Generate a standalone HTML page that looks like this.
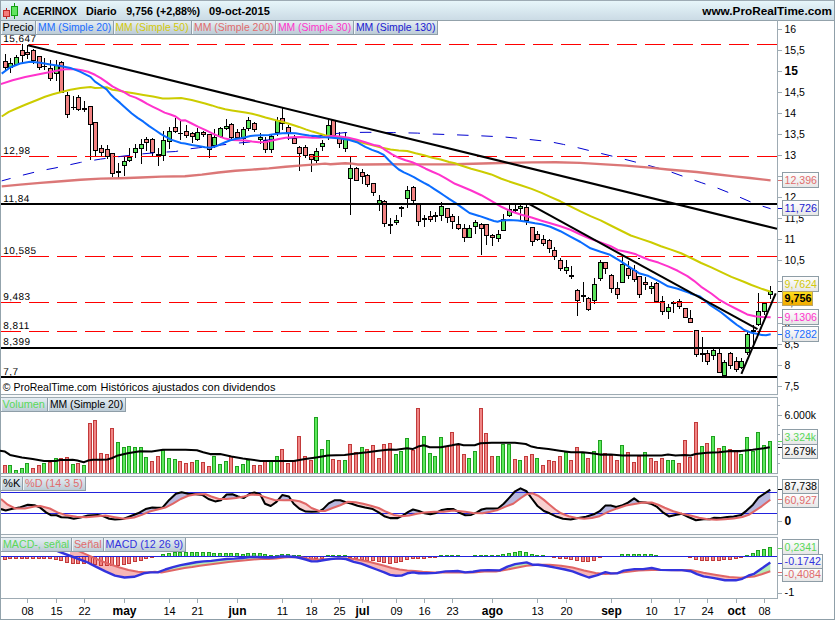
<!DOCTYPE html><html><head><meta charset="utf-8"><title>ACERINOX</title><style>html,body{margin:0;padding:0;background:#fff;overflow:hidden}svg text{white-space:pre}</style></head><body><svg width="835" height="620" viewBox="0 0 835 620" style="display:block">
<defs>
<linearGradient id="hdr" x1="0" y1="0" x2="0" y2="1"><stop offset="0" stop-color="#e8f7fb"/><stop offset="1" stop-color="#cbdbe5"/></linearGradient>
<linearGradient id="tab" x1="0" y1="0" x2="0" y2="1"><stop offset="0" stop-color="#e6eef3"/><stop offset="1" stop-color="#b9c9d4"/></linearGradient>
<linearGradient id="boxg" x1="0" y1="0" x2="0" y2="1"><stop offset="0" stop-color="#ffffff"/><stop offset="1" stop-color="#e6e6e6"/></linearGradient>
<linearGradient id="gold" x1="0" y1="0" x2="0" y2="1"><stop offset="0" stop-color="#ffe11e"/><stop offset="1" stop-color="#f0a800"/></linearGradient>
<clipPath id="cp"><rect x="1" y="20" width="776" height="374"/></clipPath>
<clipPath id="cs"><rect x="1" y="477" width="776" height="57"/></clipPath>
<clipPath id="cm"><rect x="1" y="538" width="776" height="60"/></clipPath>
</defs>
<rect width="835" height="620" fill="#ffffff"/>
<rect x="0" y="0" width="835" height="20" fill="url(#hdr)"/>
<rect x="0" y="0" width="835" height="1" fill="#9dabb4"/>
<rect x="0" y="20" width="835" height="1" fill="#93a2ab"/>
<rect x="0" y="394" width="778" height="4" fill="#f7f9fa"/>
<rect x="0" y="474" width="778" height="3" fill="#f7f9fa"/>
<rect x="0" y="534" width="778" height="4" fill="#f7f9fa"/>
<rect x="0" y="394" width="778" height="1" fill="#9eabb3"/>
<rect x="777" y="20" width="1" height="375" fill="#9eabb3"/>
<rect x="0" y="397" width="778" height="1" fill="#9eabb3"/>
<rect x="0" y="473" width="778" height="1" fill="#9eabb3"/>
<rect x="777" y="397" width="1" height="77" fill="#9eabb3"/>
<rect x="0" y="476" width="778" height="1" fill="#9eabb3"/>
<rect x="0" y="534" width="778" height="1" fill="#9eabb3"/>
<rect x="777" y="476" width="1" height="59" fill="#9eabb3"/>
<rect x="0" y="537" width="778" height="1" fill="#9eabb3"/>
<rect x="0" y="598" width="778" height="1" fill="#9eabb3"/>
<rect x="777" y="537" width="1" height="62" fill="#9eabb3"/>
<rect x="0" y="0" width="1" height="620" fill="#93a3ac"/>
<rect x="834" y="0" width="1" height="620" fill="#8f9fa8"/>
<rect x="0" y="619" width="835" height="1" fill="#8f9fa8"/>
<g clip-path="url(#cp)">
<g shape-rendering="crispEdges">
<rect x="5" y="54" width="1" height="16" fill="#000"/>
<rect x="3" y="61" width="5" height="7" fill="#000"/>
<rect x="4" y="62" width="3" height="5" fill="#f28282"/>
<rect x="10" y="58" width="1" height="15" fill="#000"/>
<rect x="8" y="63" width="5" height="5" fill="#000"/>
<rect x="9" y="64" width="3" height="3" fill="#5be35b"/>
<rect x="16" y="55" width="1" height="11" fill="#000"/>
<rect x="14" y="57" width="5" height="8" fill="#000"/>
<rect x="15" y="58" width="3" height="6" fill="#5be35b"/>
<rect x="22" y="44" width="1" height="20" fill="#000"/>
<rect x="20" y="50" width="5" height="6" fill="#000"/>
<rect x="21" y="51" width="3" height="4" fill="#f28282"/>
<rect x="27" y="45" width="1" height="14" fill="#000"/>
<rect x="25" y="52" width="5" height="3" fill="#000"/>
<rect x="26" y="53" width="3" height="1" fill="#f28282"/>
<rect x="33" y="49" width="1" height="15" fill="#000"/>
<rect x="31" y="50" width="5" height="11" fill="#000"/>
<rect x="32" y="51" width="3" height="9" fill="#f28282"/>
<rect x="39" y="56" width="1" height="14" fill="#000"/>
<rect x="37" y="56" width="5" height="12" fill="#000"/>
<rect x="38" y="57" width="3" height="10" fill="#f28282"/>
<rect x="44" y="58" width="1" height="12" fill="#000"/>
<rect x="42" y="66" width="5" height="1" fill="#000"/>
<rect x="50" y="60" width="1" height="21" fill="#000"/>
<rect x="48" y="68" width="5" height="11" fill="#000"/>
<rect x="49" y="69" width="3" height="9" fill="#f28282"/>
<rect x="56" y="60" width="1" height="21" fill="#000"/>
<rect x="54" y="65" width="5" height="9" fill="#000"/>
<rect x="55" y="66" width="3" height="7" fill="#5be35b"/>
<rect x="61" y="61" width="1" height="32" fill="#000"/>
<rect x="59" y="62" width="5" height="31" fill="#000"/>
<rect x="60" y="63" width="3" height="29" fill="#f28282"/>
<rect x="67" y="92" width="1" height="26" fill="#000"/>
<rect x="65" y="95" width="5" height="20" fill="#000"/>
<rect x="66" y="96" width="3" height="18" fill="#f28282"/>
<rect x="73" y="96" width="1" height="14" fill="#000"/>
<rect x="71" y="107" width="5" height="1" fill="#000"/>
<rect x="78" y="95" width="1" height="16" fill="#000"/>
<rect x="76" y="97" width="5" height="13" fill="#000"/>
<rect x="77" y="98" width="3" height="11" fill="#f28282"/>
<rect x="84" y="101" width="1" height="11" fill="#000"/>
<rect x="82" y="108" width="5" height="2" fill="#000"/>
<rect x="90" y="106" width="1" height="54" fill="#000"/>
<rect x="88" y="106" width="5" height="19" fill="#000"/>
<rect x="89" y="107" width="3" height="17" fill="#f28282"/>
<rect x="95" y="122" width="1" height="35" fill="#000"/>
<rect x="93" y="122" width="5" height="29" fill="#000"/>
<rect x="94" y="123" width="3" height="27" fill="#f28282"/>
<rect x="101" y="145" width="1" height="12" fill="#000"/>
<rect x="99" y="148" width="5" height="5" fill="#000"/>
<rect x="100" y="149" width="3" height="3" fill="#f28282"/>
<rect x="107" y="145" width="1" height="14" fill="#000"/>
<rect x="105" y="149" width="5" height="8" fill="#000"/>
<rect x="106" y="150" width="3" height="6" fill="#f28282"/>
<rect x="112" y="153" width="1" height="24" fill="#000"/>
<rect x="110" y="153" width="5" height="21" fill="#000"/>
<rect x="111" y="154" width="3" height="19" fill="#f28282"/>
<rect x="118" y="163" width="1" height="15" fill="#000"/>
<rect x="116" y="171" width="5" height="2" fill="#000"/>
<rect x="124" y="157" width="1" height="19" fill="#000"/>
<rect x="122" y="161" width="5" height="5" fill="#000"/>
<rect x="123" y="162" width="3" height="3" fill="#5be35b"/>
<rect x="129" y="148" width="1" height="14" fill="#000"/>
<rect x="127" y="157" width="5" height="4" fill="#000"/>
<rect x="128" y="158" width="3" height="2" fill="#5be35b"/>
<rect x="135" y="144" width="1" height="14" fill="#000"/>
<rect x="133" y="148" width="5" height="5" fill="#000"/>
<rect x="134" y="149" width="3" height="3" fill="#5be35b"/>
<rect x="141" y="139" width="1" height="25" fill="#000"/>
<rect x="139" y="144" width="5" height="5" fill="#000"/>
<rect x="140" y="145" width="3" height="3" fill="#5be35b"/>
<rect x="146" y="137" width="1" height="14" fill="#000"/>
<rect x="144" y="139" width="5" height="4" fill="#000"/>
<rect x="145" y="140" width="3" height="2" fill="#f28282"/>
<rect x="152" y="138" width="1" height="18" fill="#000"/>
<rect x="150" y="139" width="5" height="14" fill="#000"/>
<rect x="151" y="140" width="3" height="12" fill="#f28282"/>
<rect x="158" y="148" width="1" height="18" fill="#000"/>
<rect x="156" y="154" width="5" height="2" fill="#000"/>
<rect x="163" y="131" width="1" height="30" fill="#000"/>
<rect x="161" y="140" width="5" height="16" fill="#000"/>
<rect x="162" y="141" width="3" height="14" fill="#5be35b"/>
<rect x="169" y="127" width="1" height="22" fill="#000"/>
<rect x="167" y="131" width="5" height="11" fill="#000"/>
<rect x="168" y="132" width="3" height="9" fill="#5be35b"/>
<rect x="175" y="118" width="1" height="15" fill="#000"/>
<rect x="173" y="127" width="5" height="5" fill="#000"/>
<rect x="174" y="128" width="3" height="3" fill="#f28282"/>
<rect x="180" y="120" width="1" height="20" fill="#000"/>
<rect x="178" y="133" width="5" height="1" fill="#000"/>
<rect x="186" y="125" width="1" height="13" fill="#000"/>
<rect x="184" y="131" width="5" height="5" fill="#000"/>
<rect x="185" y="132" width="3" height="3" fill="#f28282"/>
<rect x="192" y="132" width="1" height="11" fill="#000"/>
<rect x="190" y="133" width="5" height="4" fill="#000"/>
<rect x="191" y="134" width="3" height="2" fill="#f28282"/>
<rect x="197" y="128" width="1" height="13" fill="#000"/>
<rect x="195" y="132" width="5" height="8" fill="#000"/>
<rect x="196" y="133" width="3" height="6" fill="#5be35b"/>
<rect x="203" y="131" width="1" height="6" fill="#000"/>
<rect x="201" y="132" width="5" height="3" fill="#000"/>
<rect x="202" y="133" width="3" height="1" fill="#f28282"/>
<rect x="209" y="134" width="1" height="24" fill="#000"/>
<rect x="207" y="134" width="5" height="16" fill="#000"/>
<rect x="208" y="135" width="3" height="14" fill="#f28282"/>
<rect x="214" y="129" width="1" height="19" fill="#000"/>
<rect x="212" y="137" width="5" height="9" fill="#000"/>
<rect x="213" y="138" width="3" height="7" fill="#5be35b"/>
<rect x="220" y="127" width="1" height="11" fill="#000"/>
<rect x="218" y="128" width="5" height="9" fill="#000"/>
<rect x="219" y="129" width="3" height="7" fill="#5be35b"/>
<rect x="226" y="119" width="1" height="11" fill="#000"/>
<rect x="224" y="126" width="5" height="3" fill="#000"/>
<rect x="225" y="127" width="3" height="1" fill="#5be35b"/>
<rect x="231" y="123" width="1" height="16" fill="#000"/>
<rect x="229" y="124" width="5" height="14" fill="#000"/>
<rect x="230" y="125" width="3" height="12" fill="#f28282"/>
<rect x="237" y="129" width="1" height="10" fill="#000"/>
<rect x="235" y="132" width="5" height="6" fill="#000"/>
<rect x="236" y="133" width="3" height="4" fill="#f28282"/>
<rect x="243" y="127" width="1" height="18" fill="#000"/>
<rect x="241" y="129" width="5" height="10" fill="#000"/>
<rect x="242" y="130" width="3" height="8" fill="#5be35b"/>
<rect x="248" y="117" width="1" height="14" fill="#000"/>
<rect x="246" y="120" width="5" height="9" fill="#000"/>
<rect x="247" y="121" width="3" height="7" fill="#5be35b"/>
<rect x="254" y="122" width="1" height="10" fill="#000"/>
<rect x="252" y="123" width="5" height="7" fill="#000"/>
<rect x="253" y="124" width="3" height="5" fill="#f28282"/>
<rect x="260" y="133" width="1" height="11" fill="#000"/>
<rect x="258" y="137" width="5" height="3" fill="#000"/>
<rect x="259" y="138" width="3" height="1" fill="#5be35b"/>
<rect x="265" y="137" width="1" height="16" fill="#000"/>
<rect x="263" y="140" width="5" height="10" fill="#000"/>
<rect x="264" y="141" width="3" height="8" fill="#f28282"/>
<rect x="271" y="135" width="1" height="18" fill="#000"/>
<rect x="269" y="136" width="5" height="14" fill="#000"/>
<rect x="270" y="137" width="3" height="12" fill="#5be35b"/>
<rect x="277" y="117" width="1" height="19" fill="#000"/>
<rect x="275" y="120" width="5" height="13" fill="#000"/>
<rect x="276" y="121" width="3" height="11" fill="#5be35b"/>
<rect x="282" y="108" width="1" height="22" fill="#000"/>
<rect x="280" y="118" width="5" height="6" fill="#000"/>
<rect x="281" y="119" width="3" height="4" fill="#f28282"/>
<rect x="288" y="125" width="1" height="15" fill="#000"/>
<rect x="286" y="127" width="5" height="6" fill="#000"/>
<rect x="287" y="128" width="3" height="4" fill="#f28282"/>
<rect x="294" y="135" width="1" height="9" fill="#000"/>
<rect x="292" y="138" width="5" height="6" fill="#000"/>
<rect x="293" y="139" width="3" height="4" fill="#f28282"/>
<rect x="299" y="146" width="1" height="25" fill="#000"/>
<rect x="297" y="147" width="5" height="7" fill="#000"/>
<rect x="298" y="148" width="3" height="5" fill="#f28282"/>
<rect x="305" y="145" width="1" height="13" fill="#000"/>
<rect x="303" y="147" width="5" height="9" fill="#000"/>
<rect x="304" y="148" width="3" height="7" fill="#f28282"/>
<rect x="311" y="154" width="1" height="18" fill="#000"/>
<rect x="309" y="154" width="5" height="6" fill="#000"/>
<rect x="310" y="155" width="3" height="4" fill="#f28282"/>
<rect x="316" y="148" width="1" height="15" fill="#000"/>
<rect x="314" y="151" width="5" height="10" fill="#000"/>
<rect x="315" y="152" width="3" height="8" fill="#5be35b"/>
<rect x="322" y="140" width="1" height="11" fill="#000"/>
<rect x="320" y="143" width="5" height="4" fill="#000"/>
<rect x="321" y="144" width="3" height="2" fill="#5be35b"/>
<rect x="328" y="120" width="1" height="20" fill="#000"/>
<rect x="326" y="125" width="5" height="11" fill="#000"/>
<rect x="327" y="126" width="3" height="9" fill="#5be35b"/>
<rect x="333" y="120" width="1" height="17" fill="#000"/>
<rect x="331" y="120" width="5" height="16" fill="#000"/>
<rect x="332" y="121" width="3" height="14" fill="#f28282"/>
<rect x="339" y="132" width="1" height="16" fill="#000"/>
<rect x="337" y="137" width="5" height="7" fill="#000"/>
<rect x="338" y="138" width="3" height="5" fill="#f28282"/>
<rect x="345" y="132" width="1" height="20" fill="#000"/>
<rect x="343" y="139" width="5" height="10" fill="#000"/>
<rect x="344" y="140" width="3" height="8" fill="#5be35b"/>
<rect x="350" y="157" width="1" height="58" fill="#000"/>
<rect x="348" y="168" width="5" height="11" fill="#000"/>
<rect x="349" y="169" width="3" height="9" fill="#5be35b"/>
<rect x="356" y="167" width="1" height="14" fill="#000"/>
<rect x="354" y="168" width="5" height="13" fill="#000"/>
<rect x="355" y="169" width="3" height="11" fill="#f28282"/>
<rect x="362" y="169" width="1" height="15" fill="#000"/>
<rect x="360" y="172" width="5" height="5" fill="#000"/>
<rect x="361" y="173" width="3" height="3" fill="#f28282"/>
<rect x="367" y="174" width="1" height="13" fill="#000"/>
<rect x="365" y="175" width="5" height="10" fill="#000"/>
<rect x="366" y="176" width="3" height="8" fill="#f28282"/>
<rect x="373" y="183" width="1" height="13" fill="#000"/>
<rect x="371" y="183" width="5" height="10" fill="#000"/>
<rect x="372" y="184" width="3" height="8" fill="#f28282"/>
<rect x="379" y="195" width="1" height="16" fill="#000"/>
<rect x="377" y="200" width="5" height="4" fill="#000"/>
<rect x="378" y="201" width="3" height="2" fill="#5be35b"/>
<rect x="384" y="200" width="1" height="27" fill="#000"/>
<rect x="382" y="201" width="5" height="23" fill="#000"/>
<rect x="383" y="202" width="3" height="21" fill="#f28282"/>
<rect x="390" y="218" width="1" height="16" fill="#000"/>
<rect x="388" y="224" width="5" height="2" fill="#000"/>
<rect x="396" y="215" width="1" height="10" fill="#000"/>
<rect x="394" y="220" width="5" height="3" fill="#000"/>
<rect x="395" y="221" width="3" height="1" fill="#5be35b"/>
<rect x="401" y="206" width="1" height="11" fill="#000"/>
<rect x="399" y="207" width="5" height="2" fill="#000"/>
<rect x="407" y="186" width="1" height="22" fill="#000"/>
<rect x="405" y="190" width="5" height="9" fill="#000"/>
<rect x="406" y="191" width="3" height="7" fill="#5be35b"/>
<rect x="413" y="186" width="1" height="18" fill="#000"/>
<rect x="411" y="187" width="5" height="14" fill="#000"/>
<rect x="412" y="188" width="3" height="12" fill="#f28282"/>
<rect x="418" y="204" width="1" height="22" fill="#000"/>
<rect x="416" y="204" width="5" height="18" fill="#000"/>
<rect x="417" y="205" width="3" height="16" fill="#f28282"/>
<rect x="424" y="215" width="1" height="12" fill="#000"/>
<rect x="422" y="218" width="5" height="2" fill="#000"/>
<rect x="430" y="211" width="1" height="11" fill="#000"/>
<rect x="428" y="216" width="5" height="4" fill="#000"/>
<rect x="429" y="217" width="3" height="2" fill="#f28282"/>
<rect x="435" y="212" width="1" height="10" fill="#000"/>
<rect x="433" y="215" width="5" height="2" fill="#000"/>
<rect x="441" y="202" width="1" height="19" fill="#000"/>
<rect x="439" y="206" width="5" height="10" fill="#000"/>
<rect x="440" y="207" width="3" height="8" fill="#5be35b"/>
<rect x="447" y="208" width="1" height="15" fill="#000"/>
<rect x="445" y="208" width="5" height="10" fill="#000"/>
<rect x="446" y="209" width="3" height="8" fill="#f28282"/>
<rect x="452" y="214" width="1" height="15" fill="#000"/>
<rect x="450" y="216" width="5" height="6" fill="#000"/>
<rect x="451" y="217" width="3" height="4" fill="#f28282"/>
<rect x="458" y="216" width="1" height="14" fill="#000"/>
<rect x="456" y="224" width="5" height="5" fill="#000"/>
<rect x="457" y="225" width="3" height="3" fill="#f28282"/>
<rect x="464" y="224" width="1" height="18" fill="#000"/>
<rect x="462" y="228" width="5" height="10" fill="#000"/>
<rect x="463" y="229" width="3" height="8" fill="#f28282"/>
<rect x="469" y="225" width="1" height="13" fill="#000"/>
<rect x="467" y="228" width="5" height="10" fill="#000"/>
<rect x="468" y="229" width="3" height="8" fill="#5be35b"/>
<rect x="475" y="220" width="1" height="14" fill="#000"/>
<rect x="473" y="222" width="5" height="5" fill="#000"/>
<rect x="474" y="223" width="3" height="3" fill="#5be35b"/>
<rect x="481" y="223" width="1" height="32" fill="#000"/>
<rect x="479" y="224" width="5" height="5" fill="#000"/>
<rect x="480" y="225" width="3" height="3" fill="#f28282"/>
<rect x="486" y="224" width="1" height="21" fill="#000"/>
<rect x="484" y="224" width="5" height="12" fill="#000"/>
<rect x="485" y="225" width="3" height="10" fill="#f28282"/>
<rect x="492" y="234" width="1" height="12" fill="#000"/>
<rect x="490" y="235" width="5" height="3" fill="#000"/>
<rect x="491" y="236" width="3" height="1" fill="#f28282"/>
<rect x="498" y="230" width="1" height="12" fill="#000"/>
<rect x="496" y="234" width="5" height="5" fill="#000"/>
<rect x="497" y="235" width="3" height="3" fill="#5be35b"/>
<rect x="503" y="214" width="1" height="17" fill="#000"/>
<rect x="501" y="219" width="5" height="12" fill="#000"/>
<rect x="502" y="220" width="3" height="10" fill="#5be35b"/>
<rect x="509" y="204" width="1" height="13" fill="#000"/>
<rect x="507" y="209" width="5" height="7" fill="#000"/>
<rect x="508" y="210" width="3" height="5" fill="#5be35b"/>
<rect x="515" y="204" width="1" height="8" fill="#000"/>
<rect x="513" y="209" width="5" height="2" fill="#000"/>
<rect x="520" y="204" width="1" height="16" fill="#000"/>
<rect x="518" y="206" width="5" height="3" fill="#000"/>
<rect x="519" y="207" width="3" height="1" fill="#5be35b"/>
<rect x="526" y="204" width="1" height="21" fill="#000"/>
<rect x="524" y="207" width="5" height="14" fill="#000"/>
<rect x="525" y="208" width="3" height="12" fill="#f28282"/>
<rect x="532" y="227" width="1" height="19" fill="#000"/>
<rect x="530" y="227" width="5" height="15" fill="#000"/>
<rect x="531" y="228" width="3" height="13" fill="#f28282"/>
<rect x="537" y="231" width="1" height="10" fill="#000"/>
<rect x="535" y="234" width="5" height="6" fill="#000"/>
<rect x="536" y="235" width="3" height="4" fill="#f28282"/>
<rect x="543" y="235" width="1" height="11" fill="#000"/>
<rect x="541" y="239" width="5" height="5" fill="#000"/>
<rect x="542" y="240" width="3" height="3" fill="#f28282"/>
<rect x="549" y="239" width="1" height="14" fill="#000"/>
<rect x="547" y="240" width="5" height="9" fill="#000"/>
<rect x="548" y="241" width="3" height="7" fill="#f28282"/>
<rect x="554" y="247" width="1" height="13" fill="#000"/>
<rect x="552" y="250" width="5" height="7" fill="#000"/>
<rect x="553" y="251" width="3" height="5" fill="#f28282"/>
<rect x="560" y="258" width="1" height="13" fill="#000"/>
<rect x="558" y="260" width="5" height="9" fill="#000"/>
<rect x="559" y="261" width="3" height="7" fill="#f28282"/>
<rect x="566" y="260" width="1" height="14" fill="#000"/>
<rect x="564" y="267" width="5" height="4" fill="#000"/>
<rect x="565" y="268" width="3" height="2" fill="#5be35b"/>
<rect x="571" y="266" width="1" height="13" fill="#000"/>
<rect x="569" y="275" width="5" height="2" fill="#000"/>
<rect x="577" y="289" width="1" height="27" fill="#000"/>
<rect x="575" y="290" width="5" height="11" fill="#000"/>
<rect x="576" y="291" width="3" height="9" fill="#f28282"/>
<rect x="583" y="282" width="1" height="20" fill="#000"/>
<rect x="581" y="295" width="5" height="2" fill="#000"/>
<rect x="588" y="297" width="1" height="14" fill="#000"/>
<rect x="586" y="298" width="5" height="12" fill="#000"/>
<rect x="587" y="299" width="3" height="10" fill="#f28282"/>
<rect x="594" y="278" width="1" height="26" fill="#000"/>
<rect x="592" y="284" width="5" height="17" fill="#000"/>
<rect x="593" y="285" width="3" height="15" fill="#5be35b"/>
<rect x="600" y="260" width="1" height="21" fill="#000"/>
<rect x="598" y="262" width="5" height="17" fill="#000"/>
<rect x="599" y="263" width="3" height="15" fill="#5be35b"/>
<rect x="605" y="262" width="1" height="12" fill="#000"/>
<rect x="603" y="262" width="5" height="7" fill="#000"/>
<rect x="604" y="263" width="3" height="5" fill="#f28282"/>
<rect x="611" y="274" width="1" height="19" fill="#000"/>
<rect x="609" y="275" width="5" height="14" fill="#000"/>
<rect x="610" y="276" width="3" height="12" fill="#f28282"/>
<rect x="617" y="282" width="1" height="17" fill="#000"/>
<rect x="615" y="288" width="5" height="7" fill="#000"/>
<rect x="616" y="289" width="3" height="5" fill="#f28282"/>
<rect x="622" y="256" width="1" height="27" fill="#000"/>
<rect x="620" y="264" width="5" height="19" fill="#000"/>
<rect x="621" y="265" width="3" height="17" fill="#5be35b"/>
<rect x="628" y="261" width="1" height="18" fill="#000"/>
<rect x="626" y="268" width="5" height="8" fill="#000"/>
<rect x="627" y="269" width="3" height="6" fill="#f28282"/>
<rect x="634" y="265" width="1" height="17" fill="#000"/>
<rect x="632" y="270" width="5" height="10" fill="#000"/>
<rect x="633" y="271" width="3" height="8" fill="#f28282"/>
<rect x="639" y="276" width="1" height="22" fill="#000"/>
<rect x="637" y="276" width="5" height="19" fill="#000"/>
<rect x="638" y="277" width="3" height="17" fill="#f28282"/>
<rect x="645" y="277" width="1" height="13" fill="#000"/>
<rect x="643" y="282" width="5" height="3" fill="#000"/>
<rect x="644" y="283" width="3" height="1" fill="#f28282"/>
<rect x="651" y="282" width="1" height="12" fill="#000"/>
<rect x="649" y="286" width="5" height="3" fill="#000"/>
<rect x="650" y="287" width="3" height="1" fill="#5be35b"/>
<rect x="656" y="282" width="1" height="20" fill="#000"/>
<rect x="654" y="283" width="5" height="19" fill="#000"/>
<rect x="655" y="284" width="3" height="17" fill="#f28282"/>
<rect x="662" y="296" width="1" height="19" fill="#000"/>
<rect x="660" y="301" width="5" height="11" fill="#000"/>
<rect x="661" y="302" width="3" height="9" fill="#f28282"/>
<rect x="668" y="304" width="1" height="15" fill="#000"/>
<rect x="666" y="307" width="5" height="5" fill="#000"/>
<rect x="667" y="308" width="3" height="3" fill="#5be35b"/>
<rect x="673" y="301" width="1" height="12" fill="#000"/>
<rect x="671" y="302" width="5" height="2" fill="#000"/>
<rect x="679" y="299" width="1" height="10" fill="#000"/>
<rect x="677" y="301" width="5" height="6" fill="#000"/>
<rect x="678" y="302" width="3" height="4" fill="#f28282"/>
<rect x="685" y="308" width="1" height="10" fill="#000"/>
<rect x="683" y="308" width="5" height="10" fill="#000"/>
<rect x="684" y="309" width="3" height="8" fill="#f28282"/>
<rect x="690" y="310" width="1" height="13" fill="#000"/>
<rect x="688" y="318" width="5" height="5" fill="#000"/>
<rect x="689" y="319" width="3" height="3" fill="#f28282"/>
<rect x="696" y="330" width="1" height="27" fill="#000"/>
<rect x="694" y="330" width="5" height="25" fill="#000"/>
<rect x="695" y="331" width="3" height="23" fill="#f28282"/>
<rect x="702" y="337" width="1" height="25" fill="#000"/>
<rect x="700" y="353" width="5" height="2" fill="#000"/>
<rect x="707" y="350" width="1" height="15" fill="#000"/>
<rect x="705" y="353" width="5" height="9" fill="#000"/>
<rect x="706" y="354" width="3" height="7" fill="#f28282"/>
<rect x="713" y="349" width="1" height="11" fill="#000"/>
<rect x="711" y="350" width="5" height="6" fill="#000"/>
<rect x="712" y="351" width="3" height="4" fill="#5be35b"/>
<rect x="719" y="348" width="1" height="25" fill="#000"/>
<rect x="717" y="353" width="5" height="20" fill="#000"/>
<rect x="718" y="354" width="3" height="18" fill="#f28282"/>
<rect x="724" y="360" width="1" height="17" fill="#000"/>
<rect x="722" y="362" width="5" height="14" fill="#000"/>
<rect x="723" y="363" width="3" height="12" fill="#5be35b"/>
<rect x="730" y="352" width="1" height="17" fill="#000"/>
<rect x="728" y="353" width="5" height="13" fill="#000"/>
<rect x="729" y="354" width="3" height="11" fill="#f28282"/>
<rect x="736" y="357" width="1" height="15" fill="#000"/>
<rect x="734" y="361" width="5" height="9" fill="#000"/>
<rect x="735" y="362" width="3" height="7" fill="#f28282"/>
<rect x="741" y="358" width="1" height="11" fill="#000"/>
<rect x="739" y="361" width="5" height="7" fill="#000"/>
<rect x="740" y="362" width="3" height="5" fill="#5be35b"/>
<rect x="747" y="332" width="1" height="23" fill="#000"/>
<rect x="745" y="334" width="5" height="19" fill="#000"/>
<rect x="746" y="335" width="3" height="17" fill="#5be35b"/>
<rect x="753" y="325" width="1" height="24" fill="#000"/>
<rect x="751" y="330" width="5" height="2" fill="#000"/>
<rect x="758" y="293" width="1" height="33" fill="#000"/>
<rect x="756" y="311" width="5" height="14" fill="#000"/>
<rect x="757" y="312" width="3" height="12" fill="#5be35b"/>
<rect x="764" y="302" width="1" height="13" fill="#000"/>
<rect x="762" y="303" width="5" height="9" fill="#000"/>
<rect x="763" y="304" width="3" height="7" fill="#5be35b"/>
<rect x="770" y="286" width="1" height="13" fill="#000"/>
<rect x="768" y="291" width="5" height="4" fill="#000"/>
<rect x="769" y="292" width="3" height="2" fill="#5be35b"/>
</g>
<line x1="1" y1="44.5" x2="777" y2="44.5" stroke="#ff0000" stroke-width="1" stroke-dasharray="20 8"/>
<line x1="1" y1="156.5" x2="777" y2="156.5" stroke="#ff0000" stroke-width="1" stroke-dasharray="20 8"/>
<line x1="1" y1="256.5" x2="777" y2="256.5" stroke="#ff0000" stroke-width="1" stroke-dasharray="20 8"/>
<line x1="1" y1="302.5" x2="777" y2="302.5" stroke="#ff0000" stroke-width="1" stroke-dasharray="20 8"/>
<line x1="1" y1="331.5" x2="777" y2="331.5" stroke="#ff0000" stroke-width="1" stroke-dasharray="20 8"/>
<polyline points="1.7,180.9 20.1,175.8 40.2,170.8 55.0,168.0 80.5,162.4 100.6,159.1 120.7,156.4 140.8,154.0 161.0,152.3 175.7,151.5 188.4,149.0 198.4,147.8 221.3,145.0 235.3,143.3 247.0,142.3 265.0,140.2 284.0,138.6 292.3,138.0 308.2,136.9 317.5,136.1 330.0,134.2 345.0,132.6 367.0,132.3 393.8,132.6 417.3,133.1 432.0,134.0 455.0,134.8 480.4,135.8 504.7,137.0 523.0,138.8 550.0,141.7 563.4,144.4 577.0,147.5 592.2,151.3 615.7,157.0 634.1,161.7 650.9,166.1 667.7,170.8 684.4,176.8 701.2,182.6 718.0,188.3 734.7,195.0 751.5,202.3 762.0,206.0 770.6,208.7" fill="none" stroke="#0000d0" stroke-width="1" stroke-dasharray="11.5 12.8" stroke-dashoffset="2.3"/>
<polyline points="1.7,186.4 20.1,184.6 40.2,182.9 55.0,181.7 80.5,179.7 100.6,178.6 120.7,178.2 140.8,177.5 161.0,176.6 185.0,176.3 201.8,174.6 218.5,172.5 235.3,170.8 252.1,169.6 268.8,168.4 285.6,166.8 302.4,165.4 319.1,164.1 325.0,163.6 330.4,164.2 345.2,163.3 352.0,163.6 358.0,164.5 365.3,164.5 390.0,164.3 415.0,164.4 455.0,164.2 491.3,163.2 531.6,162.4 555.8,162.2 580.0,162.9 600.6,164.1 626.0,165.6 650.0,167.6 667.7,169.5 696.7,172.0 716.0,174.2 734.7,176.4 750.0,178.0 770.6,180.4" fill="none" stroke="#d97070" stroke-width="2.4" stroke-linejoin="round" stroke-opacity="0.95"/>
<polyline points="1.7,116.5 8.8,111.9 17.0,108.2 25.2,104.8 37.7,99.8 45.0,96.8 52.8,94.3 60.4,92.3 70.4,89.8 80.5,88.1 90.5,87.0 95.0,87.9 100.8,87.7 106.6,87.2 112.4,89.8 118.2,90.6 124.0,91.8 133.7,93.2 143.4,95.0 153.0,96.6 162.7,98.5 168.5,98.5 175.0,98.2 181.1,98.0 185.0,98.7 191.7,100.0 198.4,101.7 205.1,103.4 211.8,105.4 218.5,107.6 225.2,109.3 232.0,110.4 238.7,111.4 245.4,112.6 252.1,113.8 258.8,115.5 265.5,117.6 272.2,119.3 278.9,121.0 285.6,122.7 292.3,124.8 299.0,126.9 305.7,129.4 312.4,131.6 319.1,133.6 325.0,135.2 331.8,136.8 340.2,137.7 348.5,138.8 356.9,141.0 365.3,143.5 373.7,145.5 382.1,147.7 390.5,149.4 398.8,150.6 407.2,151.1 415.6,153.3 424.0,155.3 432.4,157.8 440.8,159.5 449.1,162.0 455.0,163.3 461.1,165.6 471.2,168.7 481.3,171.4 491.3,174.4 501.4,178.8 511.4,182.2 521.5,185.5 531.6,188.9 541.6,192.9 550.3,196.9 560.4,201.3 570.4,206.3 580.5,211.4 590.5,216.1 600.6,220.4 610.7,225.5 620.7,230.5 630.8,235.5 640.8,238.9 650.9,242.2 661.0,246.2 671.0,249.6 681.1,253.3 691.1,258.0 701.2,263.0 711.3,267.4 721.3,272.2 731.4,276.9 743.8,281.7 751.5,285.0 760.6,288.4 770.6,291.8" fill="none" stroke="#cccc00" stroke-width="2.05" stroke-linejoin="round"/>
<polyline points="0.6,84.1 12.6,80.3 25.2,77.1 37.7,74.6 50.3,72.1 56.6,70.8 62.9,69.4 69.2,69.0 75.5,69.2 81.8,70.2 88.0,71.7 95.0,74.8 100.8,78.2 106.6,82.1 112.4,86.4 118.2,89.3 124.0,92.2 129.8,95.6 135.6,97.6 141.4,100.5 147.2,103.8 153.0,106.8 158.8,109.7 164.6,112.6 170.4,114.5 175.0,116.2 181.1,120.5 185.0,120.2 191.7,123.5 198.4,126.9 205.1,129.9 211.8,133.2 218.5,136.1 225.2,138.6 232.0,139.9 238.7,140.3 245.4,140.6 252.1,141.6 258.8,142.3 265.5,141.9 272.2,140.6 278.9,138.9 285.6,137.8 292.3,137.3 299.0,136.9 305.7,137.3 312.4,137.8 319.1,137.8 325.0,136.9 331.8,136.0 340.2,136.5 348.5,137.7 356.9,139.8 365.3,142.2 373.7,144.9 379.6,146.0 385.4,150.2 392.1,154.4 398.8,157.8 405.5,160.3 412.3,162.3 419.0,165.3 425.7,168.7 432.4,171.7 439.1,174.6 445.8,178.4 455.0,183.8 461.1,186.2 471.2,190.5 481.3,195.2 491.3,200.9 501.4,206.8 511.4,211.5 521.5,214.8 531.6,217.6 541.6,220.7 550.3,223.2 560.4,226.3 570.4,229.8 580.5,234.5 590.5,238.9 600.6,242.4 610.7,246.2 617.7,250.0 627.4,251.9 635.1,253.9 639.0,255.8 648.7,259.7 658.4,262.6 668.0,266.4 677.7,270.8 687.4,276.1 694.0,280.8 701.2,286.8 711.3,293.5 718.7,299.3 727.0,304.2 735.5,308.5 747.2,314.4 755.0,316.2 762.0,317.0 770.6,317.3" fill="none" stroke="#ff33cc" stroke-width="2.05" stroke-linejoin="round"/>
<polyline points="1.7,73.6 10.0,67.5 20.1,63.5 30.2,61.8 40.2,62.8 50.3,64.5 60.4,65.9 70.4,67.9 80.5,71.9 90.5,76.9 95.0,81.6 100.8,85.5 106.6,89.3 110.5,94.2 114.3,98.0 120.1,102.9 125.9,108.2 131.8,113.5 137.6,117.9 143.4,121.7 149.2,126.1 155.0,130.0 161.0,134.2 171.0,139.6 181.1,143.0 185.0,143.6 191.7,145.0 198.4,146.1 205.1,147.3 210.2,147.8 215.2,146.6 220.2,144.5 225.2,142.3 230.3,140.3 235.3,138.9 240.3,138.3 245.4,137.3 250.4,136.1 255.4,135.6 262.1,135.2 268.8,134.9 275.5,133.9 282.3,133.2 289.0,133.1 295.7,133.2 302.4,134.4 309.1,135.6 315.8,136.1 320.8,136.9 325.0,137.3 331.8,137.7 340.2,138.5 348.5,139.8 356.9,142.2 365.3,146.9 372.0,149.9 378.7,152.3 383.7,154.9 388.8,160.3 393.8,165.3 398.8,169.5 403.9,172.4 408.9,174.6 413.9,177.1 419.0,180.1 424.0,182.9 429.0,185.5 434.0,188.8 439.1,192.2 444.1,195.5 449.1,198.9 455.0,202.6 462.7,208.2 469.5,213.0 479.2,215.9 488.9,219.3 494.0,220.9 497.6,221.7 501.4,220.5 509.2,220.1 517.9,220.4 526.6,221.7 535.0,223.3 541.6,224.3 550.3,226.8 560.4,231.2 570.4,236.7 580.5,242.0 590.5,248.3 600.6,251.8 610.0,254.8 619.7,260.6 629.3,266.9 639.0,273.2 648.7,276.1 658.4,280.9 668.0,286.3 677.7,288.7 690.0,293.0 691.1,293.8 700.0,296.5 710.3,305.2 721.3,312.5 731.4,320.6 737.0,325.0 741.0,327.6 744.2,330.0 751.4,332.7 756.8,333.8 761.6,335.0 766.0,335.2 770.7,334.2" fill="none" stroke="#0a6cff" stroke-width="2.05" stroke-linejoin="round"/>
<rect x="1" y="203" width="776" height="2" fill="#000"/>
<rect x="1" y="347" width="776" height="2" fill="#000"/>
<rect x="1" y="376" width="776" height="2" fill="#000"/>
<line x1="27.9" y1="45.3" x2="777" y2="228.8" stroke="#000" stroke-width="2.05"/>
<line x1="528.5" y1="203.7" x2="757.5" y2="329.2" stroke="#000" stroke-width="2.0"/>
<rect x="638" y="258" width="2" height="1" fill="#000"/>
<line x1="741.4" y1="373.8" x2="775.7" y2="293.4" stroke="#000" stroke-width="2.0"/>
</g>
<g shape-rendering="crispEdges">
<rect x="3" y="465" width="4" height="8" fill="#c23a3a"/>
<rect x="4" y="466" width="2" height="7" fill="#f08585"/>
<rect x="8" y="465" width="4" height="8" fill="#1fa01f"/>
<rect x="9" y="466" width="2" height="7" fill="#5ce85c"/>
<rect x="14" y="470" width="4" height="3" fill="#1fa01f"/>
<rect x="15" y="471" width="2" height="2" fill="#5ce85c"/>
<rect x="20" y="468" width="4" height="5" fill="#1fa01f"/>
<rect x="21" y="469" width="2" height="4" fill="#5ce85c"/>
<rect x="25" y="463" width="4" height="10" fill="#1fa01f"/>
<rect x="26" y="464" width="2" height="9" fill="#5ce85c"/>
<rect x="31" y="468" width="4" height="5" fill="#c23a3a"/>
<rect x="32" y="469" width="2" height="4" fill="#f08585"/>
<rect x="37" y="465" width="4" height="8" fill="#c23a3a"/>
<rect x="38" y="466" width="2" height="7" fill="#f08585"/>
<rect x="42" y="463" width="4" height="10" fill="#1fa01f"/>
<rect x="43" y="464" width="2" height="9" fill="#5ce85c"/>
<rect x="48" y="462" width="4" height="11" fill="#c23a3a"/>
<rect x="49" y="463" width="2" height="10" fill="#f08585"/>
<rect x="54" y="458" width="4" height="15" fill="#1fa01f"/>
<rect x="55" y="459" width="2" height="14" fill="#5ce85c"/>
<rect x="59" y="458" width="4" height="15" fill="#c23a3a"/>
<rect x="60" y="459" width="2" height="14" fill="#f08585"/>
<rect x="65" y="457" width="4" height="16" fill="#c23a3a"/>
<rect x="66" y="458" width="2" height="15" fill="#f08585"/>
<rect x="71" y="464" width="4" height="9" fill="#1fa01f"/>
<rect x="72" y="465" width="2" height="8" fill="#5ce85c"/>
<rect x="76" y="463" width="4" height="10" fill="#c23a3a"/>
<rect x="77" y="464" width="2" height="9" fill="#f08585"/>
<rect x="82" y="465" width="4" height="8" fill="#1fa01f"/>
<rect x="83" y="466" width="2" height="7" fill="#5ce85c"/>
<rect x="88" y="423" width="4" height="50" fill="#c23a3a"/>
<rect x="89" y="424" width="2" height="49" fill="#f08585"/>
<rect x="93" y="420" width="4" height="53" fill="#c23a3a"/>
<rect x="94" y="421" width="2" height="52" fill="#f08585"/>
<rect x="99" y="453" width="4" height="20" fill="#c23a3a"/>
<rect x="100" y="454" width="2" height="19" fill="#f08585"/>
<rect x="105" y="454" width="4" height="19" fill="#c23a3a"/>
<rect x="106" y="455" width="2" height="18" fill="#f08585"/>
<rect x="110" y="428" width="4" height="45" fill="#c23a3a"/>
<rect x="111" y="429" width="2" height="44" fill="#f08585"/>
<rect x="116" y="442" width="4" height="31" fill="#1fa01f"/>
<rect x="117" y="443" width="2" height="30" fill="#5ce85c"/>
<rect x="122" y="447" width="4" height="26" fill="#1fa01f"/>
<rect x="123" y="448" width="2" height="25" fill="#5ce85c"/>
<rect x="127" y="446" width="4" height="27" fill="#1fa01f"/>
<rect x="128" y="447" width="2" height="26" fill="#5ce85c"/>
<rect x="133" y="447" width="4" height="26" fill="#1fa01f"/>
<rect x="134" y="448" width="2" height="25" fill="#5ce85c"/>
<rect x="139" y="447" width="4" height="26" fill="#1fa01f"/>
<rect x="140" y="448" width="2" height="25" fill="#5ce85c"/>
<rect x="144" y="457" width="4" height="16" fill="#1fa01f"/>
<rect x="145" y="458" width="2" height="15" fill="#5ce85c"/>
<rect x="150" y="461" width="4" height="12" fill="#c23a3a"/>
<rect x="151" y="462" width="2" height="11" fill="#f08585"/>
<rect x="156" y="456" width="4" height="17" fill="#c23a3a"/>
<rect x="157" y="457" width="2" height="16" fill="#f08585"/>
<rect x="161" y="450" width="4" height="23" fill="#1fa01f"/>
<rect x="162" y="451" width="2" height="22" fill="#5ce85c"/>
<rect x="167" y="458" width="4" height="15" fill="#1fa01f"/>
<rect x="168" y="459" width="2" height="14" fill="#5ce85c"/>
<rect x="173" y="459" width="4" height="14" fill="#1fa01f"/>
<rect x="174" y="460" width="2" height="13" fill="#5ce85c"/>
<rect x="178" y="461" width="4" height="12" fill="#c23a3a"/>
<rect x="179" y="462" width="2" height="11" fill="#f08585"/>
<rect x="184" y="463" width="4" height="10" fill="#c23a3a"/>
<rect x="185" y="464" width="2" height="9" fill="#f08585"/>
<rect x="190" y="462" width="4" height="11" fill="#c23a3a"/>
<rect x="191" y="463" width="2" height="10" fill="#f08585"/>
<rect x="195" y="460" width="4" height="13" fill="#1fa01f"/>
<rect x="196" y="461" width="2" height="12" fill="#5ce85c"/>
<rect x="201" y="462" width="4" height="11" fill="#c23a3a"/>
<rect x="202" y="463" width="2" height="10" fill="#f08585"/>
<rect x="207" y="466" width="4" height="7" fill="#c23a3a"/>
<rect x="208" y="467" width="2" height="6" fill="#f08585"/>
<rect x="212" y="456" width="4" height="17" fill="#1fa01f"/>
<rect x="213" y="457" width="2" height="16" fill="#5ce85c"/>
<rect x="218" y="464" width="4" height="9" fill="#1fa01f"/>
<rect x="219" y="465" width="2" height="8" fill="#5ce85c"/>
<rect x="224" y="461" width="4" height="12" fill="#1fa01f"/>
<rect x="225" y="462" width="2" height="11" fill="#5ce85c"/>
<rect x="229" y="456" width="4" height="17" fill="#c23a3a"/>
<rect x="230" y="457" width="2" height="16" fill="#f08585"/>
<rect x="235" y="466" width="4" height="7" fill="#1fa01f"/>
<rect x="236" y="467" width="2" height="6" fill="#5ce85c"/>
<rect x="241" y="464" width="4" height="9" fill="#1fa01f"/>
<rect x="242" y="465" width="2" height="8" fill="#5ce85c"/>
<rect x="246" y="460" width="4" height="13" fill="#1fa01f"/>
<rect x="247" y="461" width="2" height="12" fill="#5ce85c"/>
<rect x="252" y="465" width="4" height="8" fill="#c23a3a"/>
<rect x="253" y="466" width="2" height="7" fill="#f08585"/>
<rect x="258" y="465" width="4" height="8" fill="#c23a3a"/>
<rect x="259" y="466" width="2" height="7" fill="#f08585"/>
<rect x="263" y="461" width="4" height="12" fill="#c23a3a"/>
<rect x="264" y="462" width="2" height="11" fill="#f08585"/>
<rect x="269" y="460" width="4" height="13" fill="#1fa01f"/>
<rect x="270" y="461" width="2" height="12" fill="#5ce85c"/>
<rect x="275" y="456" width="4" height="17" fill="#1fa01f"/>
<rect x="276" y="457" width="2" height="16" fill="#5ce85c"/>
<rect x="280" y="449" width="4" height="24" fill="#c23a3a"/>
<rect x="281" y="450" width="2" height="23" fill="#f08585"/>
<rect x="286" y="463" width="4" height="10" fill="#c23a3a"/>
<rect x="287" y="464" width="2" height="9" fill="#f08585"/>
<rect x="292" y="461" width="4" height="12" fill="#c23a3a"/>
<rect x="293" y="462" width="2" height="11" fill="#f08585"/>
<rect x="297" y="436" width="4" height="37" fill="#c23a3a"/>
<rect x="298" y="437" width="2" height="36" fill="#f08585"/>
<rect x="303" y="456" width="4" height="17" fill="#c23a3a"/>
<rect x="304" y="457" width="2" height="16" fill="#f08585"/>
<rect x="309" y="460" width="4" height="13" fill="#c23a3a"/>
<rect x="310" y="461" width="2" height="12" fill="#f08585"/>
<rect x="314" y="417" width="4" height="56" fill="#1fa01f"/>
<rect x="315" y="418" width="2" height="55" fill="#5ce85c"/>
<rect x="320" y="449" width="4" height="24" fill="#1fa01f"/>
<rect x="321" y="450" width="2" height="23" fill="#5ce85c"/>
<rect x="326" y="440" width="4" height="33" fill="#1fa01f"/>
<rect x="327" y="441" width="2" height="32" fill="#5ce85c"/>
<rect x="331" y="459" width="4" height="14" fill="#c23a3a"/>
<rect x="332" y="460" width="2" height="13" fill="#f08585"/>
<rect x="337" y="460" width="4" height="13" fill="#c23a3a"/>
<rect x="338" y="461" width="2" height="12" fill="#f08585"/>
<rect x="343" y="460" width="4" height="13" fill="#1fa01f"/>
<rect x="344" y="461" width="2" height="12" fill="#5ce85c"/>
<rect x="348" y="444" width="4" height="29" fill="#c23a3a"/>
<rect x="349" y="445" width="2" height="28" fill="#f08585"/>
<rect x="354" y="452" width="4" height="21" fill="#c23a3a"/>
<rect x="355" y="453" width="2" height="20" fill="#f08585"/>
<rect x="360" y="447" width="4" height="26" fill="#1fa01f"/>
<rect x="361" y="448" width="2" height="25" fill="#5ce85c"/>
<rect x="365" y="449" width="4" height="24" fill="#c23a3a"/>
<rect x="366" y="450" width="2" height="23" fill="#f08585"/>
<rect x="371" y="445" width="4" height="28" fill="#c23a3a"/>
<rect x="372" y="446" width="2" height="27" fill="#f08585"/>
<rect x="377" y="458" width="4" height="15" fill="#c23a3a"/>
<rect x="378" y="459" width="2" height="14" fill="#f08585"/>
<rect x="382" y="444" width="4" height="29" fill="#c23a3a"/>
<rect x="383" y="445" width="2" height="28" fill="#f08585"/>
<rect x="388" y="443" width="4" height="30" fill="#c23a3a"/>
<rect x="389" y="444" width="2" height="29" fill="#f08585"/>
<rect x="394" y="454" width="4" height="19" fill="#1fa01f"/>
<rect x="395" y="455" width="2" height="18" fill="#5ce85c"/>
<rect x="399" y="451" width="4" height="22" fill="#1fa01f"/>
<rect x="400" y="452" width="2" height="21" fill="#5ce85c"/>
<rect x="405" y="438" width="4" height="35" fill="#1fa01f"/>
<rect x="406" y="439" width="2" height="34" fill="#5ce85c"/>
<rect x="411" y="450" width="4" height="23" fill="#c23a3a"/>
<rect x="412" y="451" width="2" height="22" fill="#f08585"/>
<rect x="416" y="408" width="4" height="65" fill="#c23a3a"/>
<rect x="417" y="409" width="2" height="64" fill="#f08585"/>
<rect x="422" y="436" width="4" height="37" fill="#1fa01f"/>
<rect x="423" y="437" width="2" height="36" fill="#5ce85c"/>
<rect x="428" y="453" width="4" height="20" fill="#1fa01f"/>
<rect x="429" y="454" width="2" height="19" fill="#5ce85c"/>
<rect x="433" y="456" width="4" height="17" fill="#1fa01f"/>
<rect x="434" y="457" width="2" height="16" fill="#5ce85c"/>
<rect x="439" y="437" width="4" height="36" fill="#1fa01f"/>
<rect x="440" y="438" width="2" height="35" fill="#5ce85c"/>
<rect x="445" y="446" width="4" height="27" fill="#c23a3a"/>
<rect x="446" y="447" width="2" height="26" fill="#f08585"/>
<rect x="450" y="432" width="4" height="41" fill="#c23a3a"/>
<rect x="451" y="433" width="2" height="40" fill="#f08585"/>
<rect x="456" y="445" width="4" height="28" fill="#c23a3a"/>
<rect x="457" y="446" width="2" height="27" fill="#f08585"/>
<rect x="462" y="454" width="4" height="19" fill="#c23a3a"/>
<rect x="463" y="455" width="2" height="18" fill="#f08585"/>
<rect x="467" y="458" width="4" height="15" fill="#1fa01f"/>
<rect x="468" y="459" width="2" height="14" fill="#5ce85c"/>
<rect x="473" y="451" width="4" height="22" fill="#1fa01f"/>
<rect x="474" y="452" width="2" height="21" fill="#5ce85c"/>
<rect x="479" y="408" width="4" height="65" fill="#c23a3a"/>
<rect x="480" y="409" width="2" height="64" fill="#f08585"/>
<rect x="484" y="433" width="4" height="40" fill="#c23a3a"/>
<rect x="485" y="434" width="2" height="39" fill="#f08585"/>
<rect x="490" y="456" width="4" height="17" fill="#c23a3a"/>
<rect x="491" y="457" width="2" height="16" fill="#f08585"/>
<rect x="496" y="456" width="4" height="17" fill="#1fa01f"/>
<rect x="497" y="457" width="2" height="16" fill="#5ce85c"/>
<rect x="501" y="444" width="4" height="29" fill="#1fa01f"/>
<rect x="502" y="445" width="2" height="28" fill="#5ce85c"/>
<rect x="507" y="444" width="4" height="29" fill="#1fa01f"/>
<rect x="508" y="445" width="2" height="28" fill="#5ce85c"/>
<rect x="513" y="459" width="4" height="14" fill="#c23a3a"/>
<rect x="514" y="460" width="2" height="13" fill="#f08585"/>
<rect x="518" y="460" width="4" height="13" fill="#1fa01f"/>
<rect x="519" y="461" width="2" height="12" fill="#5ce85c"/>
<rect x="524" y="456" width="4" height="17" fill="#c23a3a"/>
<rect x="525" y="457" width="2" height="16" fill="#f08585"/>
<rect x="530" y="454" width="4" height="19" fill="#c23a3a"/>
<rect x="531" y="455" width="2" height="18" fill="#f08585"/>
<rect x="535" y="458" width="4" height="15" fill="#1fa01f"/>
<rect x="536" y="459" width="2" height="14" fill="#5ce85c"/>
<rect x="541" y="465" width="4" height="8" fill="#c23a3a"/>
<rect x="542" y="466" width="2" height="7" fill="#f08585"/>
<rect x="547" y="460" width="4" height="13" fill="#c23a3a"/>
<rect x="548" y="461" width="2" height="12" fill="#f08585"/>
<rect x="552" y="461" width="4" height="12" fill="#c23a3a"/>
<rect x="553" y="462" width="2" height="11" fill="#f08585"/>
<rect x="558" y="456" width="4" height="17" fill="#c23a3a"/>
<rect x="559" y="457" width="2" height="16" fill="#f08585"/>
<rect x="564" y="452" width="4" height="21" fill="#1fa01f"/>
<rect x="565" y="453" width="2" height="20" fill="#5ce85c"/>
<rect x="569" y="460" width="4" height="13" fill="#c23a3a"/>
<rect x="570" y="461" width="2" height="12" fill="#f08585"/>
<rect x="575" y="447" width="4" height="26" fill="#c23a3a"/>
<rect x="576" y="448" width="2" height="25" fill="#f08585"/>
<rect x="581" y="453" width="4" height="20" fill="#1fa01f"/>
<rect x="582" y="454" width="2" height="19" fill="#5ce85c"/>
<rect x="586" y="458" width="4" height="15" fill="#c23a3a"/>
<rect x="587" y="459" width="2" height="14" fill="#f08585"/>
<rect x="592" y="451" width="4" height="22" fill="#1fa01f"/>
<rect x="593" y="452" width="2" height="21" fill="#5ce85c"/>
<rect x="598" y="440" width="4" height="33" fill="#1fa01f"/>
<rect x="599" y="441" width="2" height="32" fill="#5ce85c"/>
<rect x="603" y="453" width="4" height="20" fill="#c23a3a"/>
<rect x="604" y="454" width="2" height="19" fill="#f08585"/>
<rect x="609" y="455" width="4" height="18" fill="#c23a3a"/>
<rect x="610" y="456" width="2" height="17" fill="#f08585"/>
<rect x="615" y="460" width="4" height="13" fill="#c23a3a"/>
<rect x="616" y="461" width="2" height="12" fill="#f08585"/>
<rect x="620" y="445" width="4" height="28" fill="#1fa01f"/>
<rect x="621" y="446" width="2" height="27" fill="#5ce85c"/>
<rect x="626" y="452" width="4" height="21" fill="#c23a3a"/>
<rect x="627" y="453" width="2" height="20" fill="#f08585"/>
<rect x="632" y="462" width="4" height="11" fill="#c23a3a"/>
<rect x="633" y="463" width="2" height="10" fill="#f08585"/>
<rect x="637" y="456" width="4" height="17" fill="#c23a3a"/>
<rect x="638" y="457" width="2" height="16" fill="#f08585"/>
<rect x="643" y="452" width="4" height="21" fill="#1fa01f"/>
<rect x="644" y="453" width="2" height="20" fill="#5ce85c"/>
<rect x="649" y="458" width="4" height="15" fill="#c23a3a"/>
<rect x="650" y="459" width="2" height="14" fill="#f08585"/>
<rect x="654" y="461" width="4" height="12" fill="#c23a3a"/>
<rect x="655" y="462" width="2" height="11" fill="#f08585"/>
<rect x="660" y="458" width="4" height="15" fill="#c23a3a"/>
<rect x="661" y="459" width="2" height="14" fill="#f08585"/>
<rect x="666" y="460" width="4" height="13" fill="#1fa01f"/>
<rect x="667" y="461" width="2" height="12" fill="#5ce85c"/>
<rect x="671" y="460" width="4" height="13" fill="#1fa01f"/>
<rect x="672" y="461" width="2" height="12" fill="#5ce85c"/>
<rect x="677" y="463" width="4" height="10" fill="#c23a3a"/>
<rect x="678" y="464" width="2" height="9" fill="#f08585"/>
<rect x="683" y="440" width="4" height="33" fill="#c23a3a"/>
<rect x="684" y="441" width="2" height="32" fill="#f08585"/>
<rect x="688" y="457" width="4" height="16" fill="#c23a3a"/>
<rect x="689" y="458" width="2" height="15" fill="#f08585"/>
<rect x="694" y="422" width="4" height="51" fill="#c23a3a"/>
<rect x="695" y="423" width="2" height="50" fill="#f08585"/>
<rect x="700" y="446" width="4" height="27" fill="#1fa01f"/>
<rect x="701" y="447" width="2" height="26" fill="#5ce85c"/>
<rect x="705" y="443" width="4" height="30" fill="#c23a3a"/>
<rect x="706" y="444" width="2" height="29" fill="#f08585"/>
<rect x="711" y="436" width="4" height="37" fill="#1fa01f"/>
<rect x="712" y="437" width="2" height="36" fill="#5ce85c"/>
<rect x="717" y="448" width="4" height="25" fill="#c23a3a"/>
<rect x="718" y="449" width="2" height="24" fill="#f08585"/>
<rect x="722" y="446" width="4" height="27" fill="#1fa01f"/>
<rect x="723" y="447" width="2" height="26" fill="#5ce85c"/>
<rect x="728" y="449" width="4" height="24" fill="#c23a3a"/>
<rect x="729" y="450" width="2" height="23" fill="#f08585"/>
<rect x="734" y="450" width="4" height="23" fill="#c23a3a"/>
<rect x="735" y="451" width="2" height="22" fill="#f08585"/>
<rect x="739" y="454" width="4" height="19" fill="#1fa01f"/>
<rect x="740" y="455" width="2" height="18" fill="#5ce85c"/>
<rect x="745" y="437" width="4" height="36" fill="#1fa01f"/>
<rect x="746" y="438" width="2" height="35" fill="#5ce85c"/>
<rect x="751" y="451" width="4" height="22" fill="#1fa01f"/>
<rect x="752" y="452" width="2" height="21" fill="#5ce85c"/>
<rect x="756" y="432" width="4" height="41" fill="#1fa01f"/>
<rect x="757" y="433" width="2" height="40" fill="#5ce85c"/>
<rect x="762" y="445" width="4" height="28" fill="#1fa01f"/>
<rect x="763" y="446" width="2" height="27" fill="#5ce85c"/>
<rect x="768" y="441" width="4" height="32" fill="#1fa01f"/>
<rect x="769" y="442" width="2" height="31" fill="#5ce85c"/>
</g>
<polyline points="0.0,450.8 5.0,451.6 10.0,454.9 21.9,457.4 32.7,459.1 44.0,460.9 55.8,460.9 60.0,460.0 65.8,460.0 72.6,459.7 77.4,460.6 83.7,462.2 88.0,460.6 92.9,459.7 100.6,459.7 107.4,459.5 112.2,458.0 118.0,455.4 127.7,453.2 140.0,451.3 151.7,451.6 163.0,449.8 174.8,449.8 185.6,449.8 196.9,450.3 203.2,452.3 210.1,454.1 220.1,454.1 231.4,456.6 242.8,458.6 260.4,460.9 276.7,460.9 293.8,460.9 305.1,459.1 316.2,457.4 327.8,455.4 344.6,454.9 355.9,453.4 367.3,452.3 378.6,450.8 389.9,449.6 396.2,449.8 407.0,448.3 412.6,449.1 418.1,446.6 423.9,445.3 429.7,447.3 441.0,447.3 452.1,445.3 458.4,444.0 463.6,445.3 474.7,445.3 480.5,443.3 491.8,442.8 514.9,442.8 525.8,444.0 531.5,446.6 537.1,447.8 548.4,449.1 559.7,450.8 571.0,452.3 582.8,452.3 593.7,453.6 600.0,454.6 610.9,454.6 622.2,455.4 644.8,455.4 661.7,455.4 668.0,454.6 675.5,455.6 684.8,454.9 690.6,455.4 695.6,454.1 707.0,452.8 718.8,452.3 730.1,451.1 740.9,451.1 752.7,449.8 764.0,448.3 769.8,447.3" fill="none" stroke="#000" stroke-width="2.05" stroke-linejoin="round"/>
<g clip-path="url(#cs)">
<polygon points="1.0,509.1 2.0,509.4 3.0,509.7 4.0,509.9 5.0,510.2 6.0,510.3 7.0,510.1 8.0,509.9 9.0,509.7 10.0,509.4 11.0,509.2 12.0,509.0 13.0,508.8 14.0,508.6 15.0,508.4 15.0,508.4 14.0,507.9 13.0,507.4 12.0,506.9 11.0,506.3 10.0,505.8 9.0,505.3 8.0,504.8 7.0,504.1 6.0,503.3 5.0,502.4 4.0,501.6 3.0,500.7 2.0,499.9 1.0,499.0" fill="#f8d0d0"/>
<polygon points="15.0,508.4 16.0,508.2 17.0,508.0 18.0,507.8 19.0,507.6 20.0,507.3 21.0,507.0 22.0,506.7 23.0,506.3 24.0,506.0 25.0,505.6 26.0,505.3 27.0,505.0 28.0,504.7 29.0,504.8 30.0,504.9 31.0,505.0 32.0,505.1 33.0,505.2 34.0,505.3 35.0,505.5 36.0,505.9 37.0,506.3 37.0,506.3 36.0,506.4 35.0,506.5 34.0,506.7 33.0,506.9 32.0,507.1 31.0,507.3 30.0,507.5 29.0,507.7 28.0,507.9 27.0,508.1 26.0,508.3 25.0,508.5 24.0,508.5 23.0,508.5 22.0,508.5 21.0,508.5 20.0,508.5 19.0,508.5 18.0,508.5 17.0,508.5 16.0,508.5 15.0,508.4" fill="#b7b7de"/>
<polygon points="37.0,506.3 38.0,506.7 39.0,507.1 40.0,507.5 41.0,508.3 42.0,509.1 43.0,509.9 44.0,510.7 45.0,511.6 46.0,512.4 47.0,513.0 48.0,513.6 49.0,514.1 50.0,514.7 51.0,515.2 52.0,515.2 53.0,515.2 54.0,515.2 55.0,515.2 56.0,515.2 57.0,515.4 58.0,515.8 59.0,516.2 60.0,516.7 61.0,517.1 62.0,517.2 63.0,517.3 64.0,517.3 65.0,517.4 66.0,517.4 67.0,517.5 68.0,517.5 69.0,517.7 70.0,517.9 71.0,518.1 72.0,518.3 73.0,518.5 74.0,518.7 75.0,518.5 76.0,518.3 77.0,518.1 78.0,517.9 79.0,517.8 80.0,517.6 81.0,517.4 82.0,517.1 82.5,517.0 82.5,517.0 82.0,517.0 81.0,517.0 80.0,516.9 79.0,516.9 78.0,516.9 77.0,516.8 76.0,516.7 75.0,516.5 74.0,516.4 73.0,516.2 72.0,516.0 71.0,515.9 70.0,515.7 69.0,515.5 68.0,515.4 67.0,515.2 66.0,515.0 65.0,514.9 64.0,514.5 63.0,514.2 62.0,513.9 61.0,513.6 60.0,513.2 59.0,512.9 58.0,512.6 57.0,512.1 56.0,511.6 55.0,511.1 54.0,510.6 53.0,510.1 52.0,509.6 51.0,509.1 50.0,508.6 49.0,508.3 48.0,508.0 47.0,507.8 46.0,507.5 45.0,507.2 44.0,507.0 43.0,506.7 42.0,506.5 41.0,506.2 40.0,506.0 39.0,506.1 38.0,506.2 37.0,506.3" fill="#f8d0d0"/>
<polygon points="82.5,517.0 83.5,516.8 84.5,516.5 85.5,516.2 86.5,516.0 87.5,515.8 88.5,515.6 89.5,515.5 90.5,515.4 91.5,515.4 92.5,515.3 93.5,515.2 94.5,515.1 95.5,515.1 96.5,515.0 97.5,514.9 98.5,515.1 99.5,515.3 100.5,515.5 101.5,515.8 102.0,515.9 102.0,515.9 101.5,515.9 100.5,516.0 99.5,516.1 98.5,516.1 97.5,516.2 96.5,516.3 95.5,516.4 94.5,516.5 93.5,516.6 92.5,516.7 91.5,516.7 90.5,516.8 89.5,516.9 88.5,517.0 87.5,517.1 86.5,517.2 85.5,517.2 84.5,517.1 83.5,517.1 82.5,517.0" fill="#b7b7de"/>
<polygon points="102.0,515.9 103.0,516.1 104.0,516.4 105.0,516.9 106.0,517.3 107.0,517.7 108.0,518.2 109.0,518.6 110.0,518.8 111.0,518.9 112.0,519.1 113.0,519.2 114.0,519.4 115.0,519.5 116.0,519.4 117.0,519.4 118.0,519.3 119.0,519.3 120.0,519.2 121.0,519.2 122.0,519.1 123.0,518.9 124.0,518.6 124.0,518.6 123.0,518.5 122.0,518.3 121.0,518.1 120.0,518.0 119.0,517.8 118.0,517.7 117.0,517.5 116.0,517.4 115.0,517.2 114.0,517.0 113.0,516.9 112.0,516.7 111.0,516.5 110.0,516.4 109.0,516.2 108.0,516.0 107.0,515.9 106.0,515.7 105.0,515.6 104.0,515.7 103.0,515.8 102.0,515.9" fill="#f8d0d0"/>
<polygon points="124.0,518.6 125.0,518.2 126.0,517.8 127.0,517.4 128.0,517.1 129.0,516.7 130.0,516.3 131.0,515.9 132.0,515.6 133.0,515.2 134.0,514.8 135.0,514.4 136.0,514.1 137.0,513.7 138.0,513.3 139.0,512.7 140.0,512.2 141.0,511.6 142.0,511.1 143.0,510.5 144.0,510.0 145.0,509.4 146.0,509.0 147.0,508.8 148.0,508.6 149.0,508.3 150.0,508.1 151.0,507.9 152.0,507.7 153.0,507.6 154.0,507.7 155.0,507.7 156.0,507.8 157.0,507.8 158.0,507.8 159.0,507.7 160.0,507.7 161.0,507.7 162.0,507.6 163.0,507.0 164.0,505.9 165.0,504.7 166.0,503.6 167.0,502.4 168.0,501.3 169.0,500.1 170.0,499.2 171.0,498.3 172.0,497.4 173.0,496.4 174.0,495.5 175.0,494.6 176.0,493.8 177.0,493.5 178.0,493.2 179.0,492.9 180.0,492.6 181.0,492.4 182.0,492.3 183.0,492.5 184.0,492.8 185.0,493.0 186.0,493.3 187.0,493.5 188.0,493.7 189.0,493.8 190.0,493.9 191.0,493.9 192.0,494.0 193.0,494.0 194.0,494.1 195.0,494.1 196.0,494.2 196.0,494.2 195.0,494.4 194.0,494.6 193.0,494.8 192.0,495.0 191.0,495.2 190.0,495.4 189.0,495.6 188.0,495.8 187.0,496.3 186.0,496.7 185.0,497.1 184.0,497.6 183.0,498.0 182.0,498.4 181.0,498.9 180.0,499.4 179.0,500.0 178.0,500.6 177.0,501.3 176.0,501.9 175.0,502.5 174.0,503.1 173.0,503.7 172.0,504.2 171.0,504.7 170.0,505.2 169.0,505.7 168.0,506.2 167.0,506.7 166.0,507.2 165.0,507.7 164.0,507.9 163.0,508.2 162.0,508.4 161.0,508.7 160.0,508.9 159.0,509.2 158.0,509.4 157.0,509.7 156.0,509.9 155.0,510.2 154.0,510.4 153.0,510.7 152.0,511.0 151.0,511.2 150.0,511.5 149.0,511.8 148.0,512.2 147.0,512.7 146.0,513.1 145.0,513.5 144.0,514.0 143.0,514.4 142.0,514.8 141.0,515.2 140.0,515.5 139.0,515.8 138.0,516.2 137.0,516.5 136.0,516.9 135.0,517.2 134.0,517.5 133.0,517.6 132.0,517.8 131.0,517.9 130.0,518.0 129.0,518.1 128.0,518.3 127.0,518.4 126.0,518.5 125.0,518.6 124.0,518.6" fill="#b7b7de"/>
<polygon points="196.0,494.2 197.0,494.3 198.0,494.5 199.0,494.6 200.0,494.7 201.0,494.9 202.0,495.0 203.0,495.3 204.0,496.0 205.0,496.7 206.0,497.4 207.0,498.0 208.0,498.7 209.0,499.2 210.0,499.6 211.0,499.9 212.0,500.3 213.0,500.6 214.0,501.0 215.0,501.4 216.0,501.2 217.0,501.0 218.0,500.9 219.0,500.7 220.0,500.5 221.0,500.2 222.0,499.2 222.0,499.0 221.0,499.0 220.0,499.0 219.0,499.0 218.0,498.7 217.0,498.4 216.0,498.0 215.0,497.7 214.0,497.4 213.0,497.1 212.0,496.7 211.0,496.4 210.0,496.0 209.0,495.6 208.0,495.2 207.0,494.8 206.0,494.4 205.0,494.2 204.0,494.2 203.0,494.2 202.0,494.2 201.0,494.2 200.0,494.2 199.0,494.2 198.0,494.2 197.0,494.2 196.0,494.2" fill="#f8d0d0"/>
<polygon points="222.0,499.2 223.0,498.2 224.0,497.1 225.0,496.1 226.0,495.1 227.0,494.5 228.0,494.4 229.0,494.4 230.0,494.3 231.0,494.3 232.0,494.2 233.0,494.4 234.0,494.8 235.0,495.2 236.0,495.7 237.0,496.1 238.0,496.5 239.0,496.7 240.0,497.0 240.5,497.1 240.5,497.2 240.0,497.3 239.0,497.5 238.0,497.6 237.0,497.8 236.0,498.0 235.0,498.1 234.0,498.2 233.0,498.3 232.0,498.4 231.0,498.5 230.0,498.6 229.0,498.8 228.0,498.9 227.0,499.0 226.0,499.0 225.0,499.0 224.0,499.0 223.0,499.0 222.0,499.0" fill="#b7b7de"/>
<polygon points="240.5,497.1 241.5,497.4 242.5,497.6 243.5,497.9 244.5,497.6 245.5,496.8 246.5,496.1 247.0,495.7 247.0,495.7 246.5,495.8 245.5,496.1 244.5,496.3 243.5,496.6 242.5,496.8 241.5,497.0 240.5,497.2" fill="#f8d0d0"/>
<polygon points="247.0,495.7 248.0,495.0 249.0,494.2 250.0,493.7 251.0,493.4 252.0,493.2 253.0,493.0 254.0,492.7 255.0,492.8 256.0,493.0 257.0,493.3 258.0,493.6 259.0,493.9 260.0,494.1 261.0,495.8 261.0,495.7 260.0,495.4 259.0,495.1 258.0,495.0 257.0,494.9 256.0,494.8 255.0,494.8 254.0,494.7 253.0,494.6 252.0,494.5 251.0,494.7 250.0,494.9 249.0,495.2 248.0,495.4 247.0,495.7" fill="#b7b7de"/>
<polygon points="261.0,495.8 262.0,497.8 263.0,499.7 264.0,501.7 265.0,503.7 266.0,504.1 267.0,504.5 268.0,504.9 269.0,505.3 270.0,505.7 271.0,505.8 272.0,505.1 273.0,504.3 274.0,503.6 275.0,502.9 276.0,502.2 277.0,501.2 278.0,500.0 278.0,500.0 277.0,500.0 276.0,500.0 275.0,499.9 274.0,499.7 273.0,499.4 272.0,499.1 271.0,498.8 270.0,498.5 269.0,498.2 268.0,497.9 267.0,497.6 266.0,497.3 265.0,497.0 264.0,496.7 263.0,496.3 262.0,496.0 261.0,495.7" fill="#f8d0d0"/>
<polygon points="278.0,500.0 279.0,498.9 280.0,497.7 281.0,496.5 282.0,495.3 283.0,495.3 284.0,495.5 285.0,495.7 286.0,495.9 287.0,496.1 288.0,496.3 289.0,496.7 290.0,498.2 291.0,499.7 291.0,499.9 290.0,500.0 289.0,500.0 288.0,500.1 287.0,500.1 286.0,500.2 285.0,500.3 284.0,500.3 283.0,500.3 282.0,500.2 281.0,500.2 280.0,500.1 279.0,500.1 278.0,500.0" fill="#b7b7de"/>
<polygon points="291.0,499.7 292.0,501.2 293.0,502.7 294.0,504.0 295.0,504.8 296.0,505.7 297.0,506.5 298.0,507.4 299.0,508.3 300.0,508.9 301.0,509.4 302.0,509.9 303.0,510.3 304.0,510.8 305.0,511.3 306.0,511.6 307.0,511.6 308.0,511.7 309.0,511.7 310.0,511.7 311.0,511.8 312.0,511.8 313.0,511.7 314.0,511.7 315.0,511.6 316.0,511.6 317.0,511.5 318.0,511.5 319.0,511.4 320.0,510.9 320.0,511.0 319.0,510.9 318.0,510.5 317.0,510.1 316.0,509.8 315.0,509.4 314.0,509.0 313.0,508.6 312.0,508.2 311.0,507.6 310.0,506.9 309.0,506.2 308.0,505.5 307.0,504.8 306.0,504.1 305.0,503.5 304.0,503.1 303.0,502.7 302.0,502.2 301.0,501.8 300.0,501.4 299.0,501.1 298.0,500.9 297.0,500.8 296.0,500.6 295.0,500.4 294.0,500.3 293.0,500.1 292.0,499.9 291.0,499.9" fill="#f8d0d0"/>
<polygon points="320.0,510.9 321.0,510.3 322.0,509.7 323.0,509.1 324.0,508.1 325.0,507.1 326.0,506.1 327.0,505.1 328.0,504.1 329.0,503.2 330.0,502.7 331.0,502.2 332.0,501.6 333.0,501.1 334.0,500.6 335.0,500.3 336.0,500.3 337.0,500.3 338.0,500.3 339.0,500.3 340.0,500.3 341.0,500.6 342.0,500.9 343.0,501.2 344.0,501.5 345.0,501.9 346.0,502.2 346.5,502.3 346.5,502.4 346.0,502.7 345.0,503.1 344.0,503.6 343.0,504.0 342.0,504.5 341.0,504.9 340.0,505.4 339.0,505.7 338.0,506.1 337.0,506.4 336.0,506.8 335.0,507.1 334.0,507.5 333.0,507.9 332.0,508.2 331.0,508.6 330.0,509.0 329.0,509.4 328.0,509.8 327.0,510.2 326.0,510.6 325.0,511.0 324.0,511.0 323.0,511.0 322.0,511.0 321.0,511.0 320.0,511.0" fill="#b7b7de"/>
<polygon points="346.5,502.3 347.5,502.6 348.5,502.9 349.5,503.1 350.5,503.4 351.5,503.6 352.5,504.0 353.5,504.3 354.5,504.7 355.5,505.0 356.5,505.4 357.5,505.7 358.5,505.9 359.5,506.2 360.5,506.4 361.5,506.7 362.5,506.9 363.5,507.2 364.5,507.4 365.5,507.7 366.5,507.9 367.5,508.1 368.5,508.3 369.5,508.5 370.5,508.7 371.5,508.8 372.5,509.0 373.5,509.5 374.5,510.1 375.5,510.6 376.5,511.2 377.5,511.8 378.5,512.3 379.5,513.0 380.5,513.7 381.5,514.3 382.5,515.0 383.5,515.7 384.5,516.3 385.5,516.6 386.5,516.9 387.5,517.2 388.5,517.6 389.5,517.9 390.5,518.1 391.5,518.1 392.5,518.1 393.5,518.1 394.5,518.1 395.5,518.1 396.5,518.1 397.5,518.1 398.5,517.7 399.5,517.2 400.5,516.7 401.5,516.2 401.5,516.2 400.5,516.0 399.5,515.8 398.5,515.7 397.5,515.5 396.5,515.3 395.5,515.2 394.5,515.0 393.5,514.7 392.5,514.3 391.5,513.9 390.5,513.5 389.5,513.1 388.5,512.7 387.5,512.3 386.5,511.9 385.5,511.4 384.5,510.9 383.5,510.4 382.5,509.9 381.5,509.4 380.5,508.9 379.5,508.4 378.5,508.0 377.5,507.7 376.5,507.4 375.5,507.1 374.5,506.8 373.5,506.5 372.5,506.2 371.5,505.9 370.5,505.6 369.5,505.3 368.5,505.1 367.5,504.8 366.5,504.6 365.5,504.3 364.5,504.0 363.5,503.8 362.5,503.6 361.5,503.4 360.5,503.2 359.5,503.0 358.5,502.8 357.5,502.6 356.5,502.4 355.5,502.2 354.5,502.1 353.5,502.1 352.5,502.0 351.5,502.0 350.5,501.9 349.5,501.9 348.5,501.8 347.5,502.0 346.5,502.4" fill="#f8d0d0"/>
<polygon points="401.5,516.2 402.5,515.7 403.5,515.2 404.5,514.5 405.5,513.8 406.5,513.1 407.5,512.4 408.5,511.7 409.5,511.2 410.5,510.7 411.5,510.2 412.5,509.7 413.5,509.6 414.5,509.9 415.5,510.1 416.5,510.4 417.5,510.7 418.5,510.9 419.5,511.3 420.5,511.7 421.5,512.1 422.5,512.5 423.0,512.7 423.0,512.7 422.5,512.7 421.5,512.9 420.5,513.1 419.5,513.3 418.5,513.4 417.5,513.6 416.5,513.8 415.5,514.0 414.5,514.3 413.5,514.5 412.5,514.8 411.5,515.0 410.5,515.3 409.5,515.5 408.5,515.7 407.5,515.7 406.5,515.8 405.5,515.9 404.5,516.0 403.5,516.1 402.5,516.1 401.5,516.2" fill="#b7b7de"/>
<polygon points="423.0,512.7 424.0,513.1 425.0,513.4 426.0,513.6 427.0,513.7 428.0,513.9 429.0,514.1 430.0,514.2 431.0,514.1 432.0,513.9 433.0,513.6 434.0,513.4 435.0,513.1 436.0,512.9 437.0,512.4 438.0,511.9 438.0,511.8 437.0,511.8 436.0,511.8 435.0,511.8 434.0,511.8 433.0,511.9 432.0,511.9 431.0,512.0 430.0,512.1 429.0,512.1 428.0,512.2 427.0,512.2 426.0,512.3 425.0,512.4 424.0,512.5 423.0,512.7" fill="#f8d0d0"/>
<polygon points="438.0,511.9 439.0,511.3 440.0,510.8 441.0,510.3 442.0,509.9 443.0,509.7 444.0,509.6 445.0,509.5 446.0,509.3 447.0,509.2 448.0,509.1 449.0,509.1 450.0,509.1 451.0,509.1 452.0,509.1 453.0,509.1 454.0,509.4 455.0,510.0 456.0,510.6 456.5,510.9 456.5,510.8 456.0,510.7 455.0,510.6 454.0,510.5 453.0,510.4 452.0,510.6 451.0,510.7 450.0,510.9 449.0,511.0 448.0,511.2 447.0,511.3 446.0,511.5 445.0,511.6 444.0,511.8 443.0,511.8 442.0,511.8 441.0,511.8 440.0,511.8 439.0,511.8 438.0,511.8" fill="#b7b7de"/>
<polygon points="456.5,510.9 457.5,511.5 458.5,512.1 459.5,512.6 460.5,513.1 461.5,513.5 462.5,514.0 463.5,514.4 464.5,514.8 465.5,515.2 466.5,515.1 467.5,515.1 468.5,515.0 469.5,515.0 470.5,514.9 471.5,514.7 472.5,514.3 473.5,513.8 474.5,513.4 475.5,513.0 475.5,513.0 474.5,513.0 473.5,512.9 472.5,512.8 471.5,512.7 470.5,512.5 469.5,512.4 468.5,512.3 467.5,512.1 466.5,512.0 465.5,511.8 464.5,511.7 463.5,511.6 462.5,511.5 461.5,511.4 460.5,511.2 459.5,511.1 458.5,511.0 457.5,510.9 456.5,510.8" fill="#f8d0d0"/>
<polygon points="475.5,513.0 476.5,512.5 477.5,512.0 478.5,511.4 479.5,510.8 480.5,510.2 481.5,509.6 482.5,509.3 483.5,509.1 484.5,508.9 485.5,508.7 486.5,508.5 487.5,508.5 488.5,508.5 489.5,508.5 490.5,508.5 491.5,508.5 492.5,508.5 493.5,508.5 494.5,508.5 495.5,508.5 496.5,508.5 497.5,508.5 498.5,508.0 499.5,507.2 500.5,506.3 501.5,505.5 502.5,504.7 503.5,503.9 504.5,502.8 505.5,501.8 506.5,500.7 507.5,499.6 508.5,498.6 509.5,497.5 510.5,496.4 511.5,495.3 512.5,494.2 513.5,493.1 514.5,492.0 515.5,491.1 516.5,490.5 517.5,490.0 518.5,489.5 519.5,488.9 520.5,488.4 521.5,488.9 522.5,489.4 523.5,489.8 524.5,490.3 525.5,490.8 526.5,491.3 527.5,492.6 528.5,494.0 528.5,493.9 527.5,494.0 526.5,494.3 525.5,494.9 524.5,495.6 523.5,496.3 522.5,496.9 521.5,497.6 520.5,498.3 519.5,499.0 518.5,499.8 517.5,500.5 516.5,501.3 515.5,502.0 514.5,502.7 513.5,503.5 512.5,504.0 511.5,504.3 510.5,504.7 509.5,505.1 508.5,505.5 507.5,505.9 506.5,506.3 505.5,506.6 504.5,507.1 503.5,507.5 502.5,507.9 501.5,508.4 500.5,508.8 499.5,509.2 498.5,509.6 497.5,510.0 496.5,510.2 495.5,510.5 494.5,510.7 493.5,511.0 492.5,511.2 491.5,511.5 490.5,511.7 489.5,511.9 488.5,512.1 487.5,512.3 486.5,512.5 485.5,512.7 484.5,512.9 483.5,513.1 482.5,513.3 481.5,513.3 480.5,513.2 479.5,513.2 478.5,513.1 477.5,513.1 476.5,513.0 475.5,513.0" fill="#b7b7de"/>
<polygon points="528.5,494.0 529.5,495.3 530.5,496.7 531.5,498.1 532.5,499.5 533.5,500.8 534.5,502.1 535.5,503.4 536.5,504.8 537.5,505.9 538.5,506.7 539.5,507.5 540.5,508.3 541.5,509.1 542.5,509.9 543.5,510.7 544.5,511.2 545.5,511.6 546.5,512.0 547.5,512.5 548.5,512.9 549.5,513.3 550.5,513.8 551.5,514.2 552.5,514.8 553.5,515.2 554.5,515.8 555.5,516.2 556.5,516.6 557.5,516.9 558.5,517.2 559.5,517.5 560.5,517.9 561.5,518.2 562.5,518.5 563.5,518.8 564.5,518.9 565.5,519.0 566.5,519.1 567.5,519.2 568.5,519.3 569.5,519.4 570.5,519.5 571.5,519.4 572.5,519.2 573.5,519.0 574.5,518.8 575.5,518.6 576.5,518.4 577.5,518.3 578.0,518.2 578.0,518.2 577.5,518.2 576.5,518.1 575.5,517.9 574.5,517.6 573.5,517.4 572.5,517.1 571.5,516.9 570.5,516.6 569.5,516.4 568.5,516.1 567.5,515.7 566.5,515.3 565.5,515.0 564.5,514.6 563.5,514.2 562.5,513.8 561.5,513.5 560.5,512.9 559.5,512.2 558.5,511.6 557.5,510.9 556.5,510.2 555.5,509.6 554.5,508.8 553.5,507.9 552.5,507.1 551.5,506.3 550.5,505.4 549.5,504.6 548.5,503.8 547.5,502.9 546.5,502.1 545.5,501.2 544.5,500.4 543.5,499.6 542.5,498.9 541.5,498.2 540.5,497.4 539.5,496.7 538.5,496.0 537.5,495.4 536.5,495.0 535.5,494.6 534.5,494.1 533.5,493.7 532.5,493.2 531.5,493.4 530.5,493.5 529.5,493.7 528.5,493.9" fill="#f8d0d0"/>
<polygon points="578.0,518.2 579.0,518.0 580.0,517.8 581.0,517.7 582.0,517.5 583.0,517.3 584.0,517.1 585.0,517.0 586.0,516.8 587.0,516.5 588.0,516.2 589.0,515.8 590.0,515.5 591.0,515.2 592.0,514.9 593.0,514.5 594.0,514.1 595.0,513.6 596.0,513.1 597.0,512.6 598.0,512.1 599.0,511.6 600.0,510.9 601.0,509.9 602.0,508.9 603.0,507.9 604.0,506.9 605.0,505.9 606.0,505.6 607.0,505.5 608.0,505.5 609.0,505.5 610.0,505.4 611.0,505.5 612.0,505.7 613.0,506.0 614.0,506.3 615.0,506.6 616.0,506.8 617.0,506.7 618.0,506.5 619.0,506.2 620.0,506.0 621.0,505.7 622.0,505.4 623.0,504.9 624.0,504.5 625.0,504.0 626.0,503.5 627.0,503.1 628.0,502.6 629.0,501.9 630.0,501.2 631.0,500.5 632.0,499.8 633.0,499.1 634.0,498.4 635.0,499.0 636.0,499.8 637.0,500.5 638.0,501.3 639.0,501.9 640.0,502.0 641.0,502.1 642.0,502.2 643.0,502.4 644.0,502.5 645.0,502.6 645.0,502.6 644.0,502.6 643.0,502.6 642.0,502.8 641.0,503.0 640.0,503.1 639.0,503.3 638.0,503.5 637.0,503.7 636.0,503.8 635.0,504.0 634.0,504.2 633.0,504.4 632.0,504.5 631.0,504.7 630.0,504.9 629.0,505.1 628.0,505.2 627.0,505.4 626.0,505.6 625.0,505.9 624.0,506.2 623.0,506.5 622.0,506.9 621.0,507.2 620.0,507.5 619.0,507.8 618.0,508.1 617.0,508.5 616.0,508.8 615.0,509.2 614.0,509.6 613.0,510.0 612.0,510.3 611.0,510.7 610.0,511.1 609.0,511.5 608.0,511.9 607.0,512.4 606.0,512.9 605.0,513.4 604.0,513.9 603.0,514.4 602.0,514.9 601.0,515.4 600.0,515.9 599.0,516.3 598.0,516.6 597.0,516.8 596.0,517.1 595.0,517.3 594.0,517.6 593.0,517.8 592.0,518.1 591.0,518.2 590.0,518.2 589.0,518.3 588.0,518.4 587.0,518.5 586.0,518.6 585.0,518.6 584.0,518.7 583.0,518.6 582.0,518.5 581.0,518.5 580.0,518.4 579.0,518.3 578.0,518.2" fill="#b7b7de"/>
<polygon points="645.0,502.6 646.0,502.8 647.0,503.0 648.0,503.2 649.0,503.5 650.0,503.7 651.0,503.9 652.0,504.3 653.0,504.8 654.0,505.3 655.0,505.8 656.0,506.3 657.0,506.8 658.0,507.8 659.0,508.7 660.0,509.7 661.0,510.7 662.0,511.6 663.0,512.4 664.0,513.1 665.0,513.8 666.0,514.4 667.0,515.1 668.0,515.7 669.0,516.4 670.0,516.2 671.0,515.9 672.0,515.7 673.0,515.5 674.0,515.2 675.0,515.0 676.0,514.8 677.0,514.6 678.0,514.5 679.0,514.3 680.0,514.1 681.0,514.0 682.0,513.8 683.0,514.3 684.0,514.8 685.0,515.3 686.0,515.8 687.0,516.3 688.0,516.8 689.0,517.3 690.0,517.7 691.0,518.1 692.0,518.6 693.0,519.0 694.0,519.5 695.0,519.9 696.0,520.3 697.0,520.1 698.0,520.0 699.0,519.9 700.0,519.7 701.0,519.6 702.0,519.4 703.0,519.3 704.0,519.2 705.0,519.2 706.0,519.2 707.0,519.2 708.0,519.2 708.0,519.2 707.0,519.1 706.0,518.9 705.0,518.7 704.0,518.5 703.0,518.4 702.0,518.2 701.0,518.0 700.0,517.8 699.0,517.6 698.0,517.4 697.0,517.1 696.0,516.9 695.0,516.6 694.0,516.4 693.0,516.1 692.0,515.9 691.0,515.6 690.0,515.4 689.0,515.2 688.0,515.0 687.0,514.8 686.0,514.6 685.0,514.4 684.0,514.2 683.0,514.0 682.0,513.8 681.0,513.5 680.0,513.2 679.0,512.9 678.0,512.6 677.0,512.3 676.0,512.0 675.0,511.7 674.0,511.4 673.0,511.1 672.0,510.7 671.0,510.3 670.0,509.9 669.0,509.5 668.0,509.1 667.0,508.7 666.0,508.3 665.0,507.9 664.0,507.5 663.0,507.0 662.0,506.5 661.0,506.0 660.0,505.6 659.0,505.1 658.0,504.6 657.0,504.3 656.0,504.0 655.0,503.7 654.0,503.3 653.0,503.0 652.0,502.7 651.0,502.6 650.0,502.6 649.0,502.6 648.0,502.6 647.0,502.6 646.0,502.6 645.0,502.6" fill="#f8d0d0"/>
<polygon points="708.0,519.2 709.0,519.2 710.0,519.2 711.0,518.8 712.0,518.5 713.0,518.1 714.0,517.8 715.0,517.7 716.0,517.8 717.0,517.9 718.0,517.9 719.0,518.0 720.0,518.1 721.0,518.0 722.0,517.9 723.0,517.7 724.0,517.5 725.0,517.4 726.0,517.2 727.0,517.0 728.0,516.9 729.0,516.8 730.0,516.7 731.0,516.6 732.0,516.5 733.0,516.5 734.0,516.3 735.0,516.1 736.0,515.9 737.0,515.7 738.0,515.5 739.0,515.3 740.0,515.1 741.0,514.9 742.0,514.3 743.0,513.5 744.0,512.7 745.0,511.9 746.0,511.1 747.0,510.2 748.0,509.3 749.0,508.4 750.0,507.5 751.0,506.5 752.0,505.6 753.0,504.7 754.0,503.4 755.0,502.1 756.0,500.8 757.0,499.4 758.0,498.1 759.0,497.2 760.0,496.5 761.0,495.9 762.0,495.2 763.0,494.5 764.0,493.9 765.0,493.2 766.0,492.5 767.0,491.9 768.0,491.2 769.0,490.6 770.0,489.9 770.3,489.7 770.3,499.8 770.0,500.0 769.0,500.8 768.0,501.5 767.0,502.3 766.0,503.1 765.0,503.8 764.0,504.6 763.0,505.3 762.0,506.1 761.0,506.8 760.0,507.4 759.0,508.1 758.0,508.7 757.0,509.4 756.0,510.1 755.0,510.7 754.0,511.4 753.0,512.1 752.0,512.7 751.0,513.4 750.0,514.0 749.0,514.7 748.0,515.1 747.0,515.5 746.0,515.8 745.0,516.1 744.0,516.4 743.0,516.8 742.0,517.1 741.0,517.2 740.0,517.4 739.0,517.6 738.0,517.7 737.0,517.9 736.0,518.1 735.0,518.3 734.0,518.4 733.0,518.5 732.0,518.6 731.0,518.7 730.0,518.8 729.0,518.9 728.0,519.0 727.0,519.0 726.0,519.1 725.0,519.2 724.0,519.3 723.0,519.3 722.0,519.4 721.0,519.5 720.0,519.5 719.0,519.6 718.0,519.7 717.0,519.8 716.0,519.8 715.0,519.7 714.0,519.6 713.0,519.6 712.0,519.5 711.0,519.4 710.0,519.4 709.0,519.3 708.0,519.2" fill="#b7b7de"/>
<rect x="1" y="492" width="776" height="1" fill="#2222dd"/>
<rect x="1" y="513" width="776" height="1" fill="#2222dd"/>
<polyline points="1.0,509.1 5.7,510.4 11.5,509.1 19.2,507.6 27.8,504.7 34.5,505.3 40.2,507.6 46.0,512.4 50.8,515.2 56.5,515.2 61.3,517.2 68.0,517.5 73.8,518.7 80.5,517.5 88.1,515.6 97.7,514.9 103.5,516.2 109.2,518.7 115.0,519.5 122.6,519.1 130.3,516.2 138.0,513.3 145.6,509.1 152.3,507.6 157.0,507.8 162.5,507.6 169.2,499.9 175.9,493.8 181.6,492.2 188.3,493.8 196.0,494.2 202.7,495.1 208.4,499.0 215.1,501.4 220.9,500.3 226.6,494.5 232.4,494.2 238.1,496.5 243.9,498.0 249.6,493.8 254.4,492.6 260.2,494.2 265.0,503.7 270.7,506.0 276.5,501.8 282.2,495.1 288.9,496.5 293.7,503.7 299.5,508.7 305.7,511.6 311.5,511.8 319.2,511.4 323.0,509.1 328.7,503.4 334.5,500.3 340.2,500.3 346.0,502.2 351.7,503.7 357.5,505.7 365.1,507.6 372.8,509.1 378.6,512.4 384.3,516.2 390.1,518.1 397.7,518.1 403.5,515.2 408.3,511.8 413.0,509.5 418.8,511.0 424.5,513.3 430.3,514.3 436.0,512.9 441.8,509.9 447.5,509.1 453.5,509.1 459.6,512.7 465.3,515.2 471.1,514.9 476.8,512.4 481.6,509.5 486.4,508.5 497.9,508.5 503.7,503.7 509.4,497.6 515.1,491.3 520.5,488.4 526.6,491.3 531.4,498.0 537.2,505.7 543.9,511.0 549.6,513.3 555.4,516.2 563.0,518.7 570.7,519.5 578.4,518.1 586.0,516.8 593.7,514.3 599.7,511.2 605.3,505.6 610.8,505.4 616.2,506.9 621.6,505.6 628.0,502.6 634.1,498.3 638.8,501.9 645.3,502.6 651.7,504.1 657.1,506.9 662.5,512.1 669.0,516.4 675.4,514.9 681.9,513.8 688.4,517.0 695.9,520.3 703.5,519.2 709.9,519.2 714.2,517.7 720.7,518.1 727.2,517.0 733.6,516.4 741.2,514.9 746.6,510.6 753.0,504.7 758.4,497.6 763.8,494.0 770.3,489.7" fill="none" stroke="#000" stroke-width="2.05" stroke-linejoin="round"/>
<polyline points="1.0,499.0 7.7,504.7 15.3,508.5 24.9,508.5 34.5,506.6 40.2,506.0 49.8,508.5 57.5,512.4 65.1,514.9 76.6,516.8 86.2,517.2 97.7,516.2 105.4,515.6 115.0,517.2 124.5,518.7 134.1,517.5 141.8,514.9 149.5,511.6 157.7,509.5 165.3,507.6 173.0,503.7 180.7,499.0 188.3,495.7 196.0,494.2 205.6,494.2 211.3,496.5 219.0,499.0 226.6,499.0 236.2,498.0 243.9,496.5 251.6,494.5 259.2,495.1 266.9,497.6 274.5,499.9 284.1,500.3 291.8,499.9 299.5,501.2 305.5,503.7 311.5,508.0 319.2,511.0 324.9,511.0 332.6,508.0 340.2,505.3 347.9,501.8 355.6,502.2 363.2,503.7 370.9,505.7 378.6,508.0 386.2,511.8 393.9,514.9 401.6,516.2 409.2,515.6 416.9,513.7 424.5,512.4 434.1,511.8 443.7,511.8 453.3,510.4 465.3,511.8 473.0,512.9 482.6,513.3 490.2,511.8 497.9,509.9 505.6,506.6 513.2,503.7 520.9,498.0 526.6,494.2 532.4,493.2 538.1,495.7 543.9,499.9 549.6,504.7 555.4,509.5 561.1,513.3 568.8,516.2 576.5,518.1 584.1,518.7 591.8,518.1 599.5,516.2 608.6,511.6 617.2,508.4 625.9,505.6 634.5,504.1 643.1,502.6 651.7,502.6 658.2,504.7 664.7,507.8 673.3,511.2 681.9,513.8 690.5,515.5 699.2,517.7 707.8,519.2 716.4,519.8 725.0,519.2 733.6,518.5 742.3,517.0 748.7,514.9 755.2,510.6 761.7,506.3 770.3,499.8" fill="none" stroke="#e06666" stroke-width="2.05" stroke-linejoin="round"/>
</g>
<g clip-path="url(#cm)">
<polygon points="70.0,555.8 71.0,556.2 72.0,556.5 73.0,556.9 74.0,557.3 75.0,557.6 76.0,558.0 77.0,558.4 78.0,558.8 79.0,559.1 80.0,559.5 81.0,559.9 82.0,560.2 83.0,560.6 84.0,561.0 85.0,561.4 86.0,561.7 87.0,562.2 88.0,562.7 89.0,563.2 90.0,563.7 91.0,564.2 92.0,564.7 93.0,565.2 94.0,565.7 95.0,566.2 96.0,566.7 97.0,567.2 98.0,567.7 99.0,568.2 100.0,568.7 101.0,569.2 102.0,569.7 103.0,570.2 104.0,570.7 105.0,571.2 106.0,571.7 107.0,572.1 108.0,572.5 109.0,573.0 110.0,573.4 111.0,573.9 112.0,574.3 113.0,574.7 114.0,575.2 115.0,575.6 116.0,575.8 117.0,576.0 118.0,576.2 119.0,576.4 120.0,576.6 121.0,576.8 122.0,577.0 123.0,577.2 124.0,577.4 125.0,577.5 126.0,577.4 127.0,577.3 128.0,577.2 129.0,577.2 130.0,577.1 131.0,577.0 132.0,577.0 133.0,576.9 134.0,576.8 135.0,576.5 136.0,576.1 137.0,575.7 138.0,575.4 139.0,575.0 140.0,574.6 141.0,574.3 142.0,573.9 143.0,573.6 144.0,573.3 145.0,573.1 146.0,573.0 147.0,572.8 148.0,572.7 149.0,572.5 150.0,572.4 151.0,572.4 152.0,572.4 153.0,572.4 154.0,572.4 155.0,572.4 156.0,572.4 157.0,572.4 158.0,572.3 158.5,572.1 158.5,572.1 158.0,572.1 157.0,572.0 156.0,571.9 155.0,571.8 154.0,571.9 153.0,572.0 152.0,572.0 151.0,572.1 150.0,572.2 149.0,572.3 148.0,572.4 147.0,572.4 146.0,572.3 145.0,572.2 144.0,572.2 143.0,572.1 142.0,572.1 141.0,572.0 140.0,571.9 139.0,571.9 138.0,571.8 137.0,571.6 136.0,571.4 135.0,571.2 134.0,571.0 133.0,570.8 132.0,570.6 131.0,570.4 130.0,570.2 129.0,570.0 128.0,569.8 127.0,569.5 126.0,569.2 125.0,568.9 124.0,568.7 123.0,568.4 122.0,568.1 121.0,567.8 120.0,567.5 119.0,567.3 118.0,566.9 117.0,566.6 116.0,566.3 115.0,566.0 114.0,565.7 113.0,565.3 112.0,565.0 111.0,564.7 110.0,564.4 109.0,564.0 108.0,563.6 107.0,563.2 106.0,562.8 105.0,562.4 104.0,562.0 103.0,561.6 102.0,561.2 101.0,560.9 100.0,560.5 99.0,560.0 98.0,559.6 97.0,559.2 96.0,558.7 95.0,558.3 94.0,557.8 93.0,557.4 92.0,556.9 91.0,556.5 90.0,556.1 89.0,555.6 88.0,555.2 87.0,554.7 86.0,554.3 85.0,553.9 84.0,553.4 83.0,553.0 82.0,552.6 81.0,552.1 80.0,551.7 79.0,551.3 78.0,551.0 77.0,550.6 76.0,550.2 75.0,549.9 74.0,549.5 73.0,549.1 72.0,548.7 71.0,548.4 70.0,548.0" fill="#f7b6b6"/>
<polygon points="158.5,572.1 159.5,571.7 160.5,571.3 161.5,571.0 162.5,570.6 163.5,570.2 164.5,569.8 165.5,569.4 166.5,569.1 167.5,568.8 168.5,568.5 169.5,568.2 170.5,567.9 171.5,567.6 172.5,567.3 173.5,567.1 174.5,566.8 175.5,566.5 176.5,566.2 177.5,566.0 178.5,565.7 179.5,565.4 180.5,565.2 181.5,565.0 182.5,564.8 183.5,564.6 184.5,564.4 185.5,564.2 186.5,564.0 187.5,563.8 188.5,563.7 189.5,563.5 190.5,563.3 191.5,563.1 192.5,562.9 193.5,562.7 194.5,562.5 195.5,562.3 196.5,562.1 197.5,562.0 198.5,561.9 199.5,561.8 200.5,561.7 201.5,561.6 202.5,561.5 203.5,561.4 204.5,561.3 205.5,561.3 206.5,561.2 207.5,561.1 208.5,561.1 209.5,561.0 210.5,561.0 211.5,560.9 212.5,560.7 213.5,560.6 214.5,560.5 215.5,560.4 216.5,560.2 217.5,560.1 218.5,560.0 219.5,559.8 220.5,559.7 221.5,559.6 222.5,559.5 223.5,559.4 224.5,559.2 225.5,559.1 226.5,559.0 227.5,559.0 228.5,558.9 229.5,558.8 230.5,558.8 231.5,558.7 232.5,558.7 233.5,558.6 234.5,558.6 235.5,558.5 236.5,558.4 237.5,558.4 238.5,558.3 239.5,558.2 240.5,558.1 241.5,558.0 242.5,557.9 243.5,557.8 244.5,557.7 245.5,557.5 246.5,557.4 247.5,557.3 248.5,557.1 249.5,557.0 250.5,557.0 251.5,557.0 252.5,557.0 253.5,557.0 254.5,557.0 255.5,557.0 256.5,557.0 257.5,557.0 258.5,557.1 259.5,557.2 260.5,557.2 261.5,557.3 262.5,557.4 263.5,557.5 264.5,557.6 265.5,557.6 266.5,557.6 267.5,557.6 268.5,557.6 269.5,557.6 270.5,557.6 271.5,557.6 272.5,557.6 273.5,557.5 274.5,557.3 275.5,557.2 276.5,557.0 277.5,556.9 278.5,556.8 279.5,556.6 280.5,556.5 281.5,556.5 282.5,556.5 283.5,556.5 284.5,556.5 285.5,556.5 286.5,556.5 287.5,556.5 288.5,556.5 289.5,556.6 290.5,556.7 291.5,556.7 292.5,556.8 293.5,556.9 294.5,556.9 295.5,557.0 296.0,557.1 296.0,557.1 295.5,557.1 294.5,557.1 293.5,557.0 292.5,557.0 291.5,557.0 290.5,557.1 289.5,557.2 288.5,557.3 287.5,557.3 286.5,557.4 285.5,557.5 284.5,557.6 283.5,557.7 282.5,557.8 281.5,557.9 280.5,558.0 279.5,558.1 278.5,558.2 277.5,558.3 276.5,558.4 275.5,558.5 274.5,558.6 273.5,558.6 272.5,558.7 271.5,558.8 270.5,558.9 269.5,558.9 268.5,559.0 267.5,559.0 266.5,559.0 265.5,559.0 264.5,559.0 263.5,559.0 262.5,559.0 261.5,559.0 260.5,559.0 259.5,559.1 258.5,559.2 257.5,559.2 256.5,559.3 255.5,559.4 254.5,559.4 253.5,559.5 252.5,559.6 251.5,559.7 250.5,559.8 249.5,559.9 248.5,560.0 247.5,560.1 246.5,560.2 245.5,560.3 244.5,560.4 243.5,560.5 242.5,560.6 241.5,560.6 240.5,560.7 239.5,560.8 238.5,560.9 237.5,561.0 236.5,561.1 235.5,561.2 234.5,561.3 233.5,561.4 232.5,561.6 231.5,561.7 230.5,561.8 229.5,561.9 228.5,562.1 227.5,562.2 226.5,562.3 225.5,562.4 224.5,562.6 223.5,562.7 222.5,562.8 221.5,563.0 220.5,563.1 219.5,563.2 218.5,563.3 217.5,563.4 216.5,563.5 215.5,563.7 214.5,563.8 213.5,563.9 212.5,564.0 211.5,564.2 210.5,564.3 209.5,564.4 208.5,564.6 207.5,564.7 206.5,564.8 205.5,565.0 204.5,565.1 203.5,565.2 202.5,565.3 201.5,565.5 200.5,565.6 199.5,565.8 198.5,565.9 197.5,566.1 196.5,566.3 195.5,566.4 194.5,566.6 193.5,566.8 192.5,566.9 191.5,567.1 190.5,567.2 189.5,567.4 188.5,567.5 187.5,567.7 186.5,567.8 185.5,568.0 184.5,568.1 183.5,568.3 182.5,568.5 181.5,568.6 180.5,568.8 179.5,569.0 178.5,569.2 177.5,569.4 176.5,569.6 175.5,569.8 174.5,570.0 173.5,570.2 172.5,570.3 171.5,570.5 170.5,570.7 169.5,570.9 168.5,571.1 167.5,571.3 166.5,571.5 165.5,571.7 164.5,571.9 163.5,572.0 162.5,572.2 161.5,572.4 160.5,572.3 159.5,572.2 158.5,572.1" fill="#b6ecb6"/>
<polygon points="296.0,557.1 297.0,557.3 298.0,557.5 299.0,557.8 300.0,558.0 301.0,558.3 302.0,558.5 303.0,558.8 304.0,559.1 305.0,559.3 306.0,559.6 307.0,559.9 308.0,560.3 309.0,560.6 310.0,560.9 311.0,561.2 312.0,561.4 313.0,561.4 314.0,561.4 315.0,561.4 316.0,561.4 317.0,561.4 318.0,561.2 319.0,561.1 320.0,560.9 321.0,560.7 322.0,560.5 323.0,560.3 324.0,560.1 325.0,560.0 326.0,559.8 327.0,559.6 328.0,559.5 329.0,559.3 330.0,559.1 331.0,559.0 332.0,558.9 333.0,558.8 334.0,558.7 335.0,558.7 336.0,558.6 337.0,558.5 338.0,558.4 339.0,558.5 340.0,558.5 341.0,558.6 342.0,558.7 343.0,558.8 344.0,558.8 345.0,558.9 346.0,559.0 347.0,559.4 348.0,559.7 349.0,560.1 350.0,560.5 351.0,560.8 352.0,561.2 353.0,561.5 354.0,561.9 355.0,562.1 356.0,562.4 357.0,562.6 358.0,562.9 359.0,563.1 360.0,563.4 361.0,563.6 362.0,564.0 363.0,564.3 364.0,564.7 365.0,565.1 366.0,565.5 367.0,565.8 368.0,566.2 369.0,566.6 370.0,567.0 371.0,567.4 372.0,567.7 373.0,568.1 374.0,568.5 375.0,568.9 376.0,569.3 377.0,569.7 378.0,570.0 379.0,570.4 380.0,570.8 381.0,571.2 382.0,571.5 383.0,571.9 384.0,572.3 385.0,572.7 386.0,573.1 387.0,573.6 388.0,574.0 389.0,574.4 390.0,574.9 391.0,575.0 392.0,575.2 393.0,575.4 394.0,575.5 395.0,575.7 396.0,575.8 397.0,575.8 398.0,575.7 399.0,575.7 400.0,575.7 401.0,575.6 402.0,575.4 403.0,575.0 404.0,574.6 405.0,574.2 406.0,573.8 407.0,573.4 408.0,573.2 409.0,573.0 410.0,572.9 411.0,572.7 412.0,572.6 413.0,572.4 414.0,572.6 415.0,572.7 416.0,572.9 417.0,573.0 418.0,573.2 419.0,573.3 420.0,573.3 421.0,573.3 422.0,573.3 423.0,573.3 424.0,573.3 425.0,573.3 426.0,573.3 427.0,573.3 428.0,573.2 429.0,573.2 430.0,573.2 431.0,573.1 432.0,573.1 433.0,573.0 434.0,573.0 435.0,572.9 436.0,572.9 437.0,572.7 438.0,572.6 439.0,572.4 439.0,572.4 438.0,572.4 437.0,572.4 436.0,572.4 435.0,572.4 434.0,572.4 433.0,572.3 432.0,572.3 431.0,572.2 430.0,572.2 429.0,572.1 428.0,572.1 427.0,572.0 426.0,572.0 425.0,571.9 424.0,571.9 423.0,571.8 422.0,571.7 421.0,571.6 420.0,571.5 419.0,571.4 418.0,571.3 417.0,571.2 416.0,571.1 415.0,571.0 414.0,570.9 413.0,570.8 412.0,570.8 411.0,570.7 410.0,570.6 409.0,570.5 408.0,570.5 407.0,570.4 406.0,570.2 405.0,570.1 404.0,570.0 403.0,569.9 402.0,569.8 401.0,569.7 400.0,569.5 399.0,569.4 398.0,569.2 397.0,569.0 396.0,568.8 395.0,568.6 394.0,568.4 393.0,568.2 392.0,568.0 391.0,567.7 390.0,567.4 389.0,567.1 388.0,566.8 387.0,566.5 386.0,566.2 385.0,565.9 384.0,565.6 383.0,565.4 382.0,565.1 381.0,564.8 380.0,564.6 379.0,564.3 378.0,564.1 377.0,563.8 376.0,563.6 375.0,563.3 374.0,563.0 373.0,562.8 372.0,562.5 371.0,562.3 370.0,562.0 369.0,561.8 368.0,561.6 367.0,561.4 366.0,561.2 365.0,561.0 364.0,560.8 363.0,560.6 362.0,560.4 361.0,560.2 360.0,560.1 359.0,559.9 358.0,559.7 357.0,559.6 356.0,559.4 355.0,559.2 354.0,559.1 353.0,558.9 352.0,558.9 351.0,558.8 350.0,558.7 349.0,558.6 348.0,558.6 347.0,558.5 346.0,558.4 345.0,558.4 344.0,558.4 343.0,558.4 342.0,558.4 341.0,558.4 340.0,558.4 339.0,558.4 338.0,558.4 337.0,558.5 336.0,558.6 335.0,558.7 334.0,558.7 333.0,558.8 332.0,558.9 331.0,559.0 330.0,559.0 329.0,559.1 328.0,559.2 327.0,559.2 326.0,559.3 325.0,559.4 324.0,559.4 323.0,559.5 322.0,559.5 321.0,559.5 320.0,559.5 319.0,559.5 318.0,559.5 317.0,559.5 316.0,559.5 315.0,559.5 314.0,559.3 313.0,559.2 312.0,559.0 311.0,558.9 310.0,558.7 309.0,558.6 308.0,558.4 307.0,558.3 306.0,558.2 305.0,558.0 304.0,557.9 303.0,557.7 302.0,557.6 301.0,557.4 300.0,557.3 299.0,557.2 298.0,557.2 297.0,557.1 296.0,557.1" fill="#f7b6b6"/>
<polygon points="439.0,572.4 440.0,572.3 441.0,572.1 442.0,572.0 443.0,571.8 444.0,571.6 445.0,571.5 446.0,571.4 447.0,571.4 448.0,571.3 449.0,571.3 450.0,571.3 451.0,571.3 452.0,571.2 453.0,571.2 454.0,571.2 455.0,571.1 456.0,571.1 457.0,571.0 458.0,571.1 459.0,571.2 460.0,571.4 461.0,571.6 462.0,571.8 463.0,572.0 464.0,572.2 465.0,572.3 466.0,572.3 467.0,572.3 468.0,572.2 469.0,572.1 470.0,572.0 471.0,572.0 472.0,571.9 473.0,571.8 474.0,571.6 475.0,571.4 476.0,571.3 477.0,571.1 478.0,570.9 479.0,570.7 480.0,570.5 481.0,570.4 482.0,570.3 483.0,570.3 484.0,570.3 485.0,570.2 486.0,570.2 487.0,570.2 488.0,570.1 489.0,570.1 490.0,570.1 491.0,570.2 492.0,570.2 493.0,570.2 494.0,570.2 495.0,570.3 496.0,570.3 497.0,570.3 498.0,570.4 499.0,570.4 500.0,570.3 501.0,569.8 502.0,569.3 503.0,568.8 504.0,568.3 505.0,567.8 506.0,567.3 507.0,566.8 508.0,566.4 509.0,566.1 510.0,565.8 511.0,565.4 512.0,565.1 513.0,564.8 514.0,564.5 515.0,564.1 516.0,564.0 517.0,563.8 518.0,563.7 519.0,563.5 520.0,563.4 521.0,563.2 522.0,563.1 523.0,562.9 524.0,562.8 525.0,562.6 526.0,562.5 527.0,562.6 528.0,563.0 529.0,563.4 530.0,563.7 531.0,564.1 532.0,564.5 533.0,564.7 534.0,564.7 535.0,564.7 536.0,564.7 537.0,564.7 538.0,564.7 538.0,564.7 537.0,564.8 536.0,564.9 535.0,565.0 534.0,565.1 533.0,565.1 532.0,565.2 531.0,565.3 530.0,565.4 529.0,565.5 528.0,565.6 527.0,565.7 526.0,565.8 525.0,566.0 524.0,566.2 523.0,566.4 522.0,566.6 521.0,566.8 520.0,567.0 519.0,567.2 518.0,567.4 517.0,567.6 516.0,567.8 515.0,568.0 514.0,568.2 513.0,568.4 512.0,568.6 511.0,568.8 510.0,569.0 509.0,569.2 508.0,569.4 507.0,569.6 506.0,569.7 505.0,569.9 504.0,570.1 503.0,570.2 502.0,570.4 501.0,570.6 500.0,570.7 499.0,570.9 498.0,571.1 497.0,571.2 496.0,571.4 495.0,571.4 494.0,571.4 493.0,571.4 492.0,571.4 491.0,571.4 490.0,571.4 489.0,571.4 488.0,571.4 487.0,571.4 486.0,571.4 485.0,571.4 484.0,571.4 483.0,571.5 482.0,571.6 481.0,571.7 480.0,571.8 479.0,571.9 478.0,572.0 477.0,572.1 476.0,572.1 475.0,572.2 474.0,572.3 473.0,572.4 472.0,572.4 471.0,572.4 470.0,572.4 469.0,572.4 468.0,572.4 467.0,572.4 466.0,572.4 465.0,572.4 464.0,572.4 463.0,572.4 462.0,572.4 461.0,572.4 460.0,572.4 459.0,572.4 458.0,572.4 457.0,572.4 456.0,572.4 455.0,572.4 454.0,572.4 453.0,572.4 452.0,572.4 451.0,572.4 450.0,572.4 449.0,572.4 448.0,572.4 447.0,572.4 446.0,572.4 445.0,572.4 444.0,572.4 443.0,572.4 442.0,572.4 441.0,572.4 440.0,572.4 439.0,572.4" fill="#b6ecb6"/>
<polygon points="538.0,564.7 539.0,564.8 540.0,564.9 541.0,565.1 542.0,565.2 543.0,565.3 544.0,565.5 545.0,565.6 546.0,565.7 547.0,565.9 548.0,566.1 549.0,566.3 550.0,566.5 551.0,566.7 552.0,566.9 553.0,567.1 554.0,567.3 555.0,567.5 556.0,567.7 557.0,567.9 558.0,568.1 559.0,568.3 560.0,568.5 561.0,568.7 562.0,568.9 563.0,569.1 564.0,569.3 565.0,569.5 566.0,569.8 567.0,570.0 568.0,570.2 569.0,570.5 570.0,570.8 571.0,571.0 572.0,571.2 573.0,571.6 574.0,571.9 575.0,572.3 576.0,572.7 577.0,573.1 578.0,573.4 579.0,573.8 580.0,574.2 581.0,574.6 582.0,574.9 583.0,575.3 584.0,575.7 585.0,576.0 586.0,576.4 587.0,576.8 588.0,577.2 589.0,577.5 590.0,577.2 591.0,576.9 592.0,576.7 593.0,576.4 594.0,576.1 595.0,575.9 596.0,575.6 597.0,575.3 598.0,575.0 599.0,574.6 600.0,574.3 601.0,573.9 601.5,573.7 601.5,573.6 601.0,573.6 600.0,573.5 599.0,573.3 598.0,573.2 597.0,573.1 596.0,572.9 595.0,572.8 594.0,572.6 593.0,572.3 592.0,572.1 591.0,571.9 590.0,571.7 589.0,571.5 588.0,571.2 587.0,571.0 586.0,570.8 585.0,570.6 584.0,570.4 583.0,570.1 582.0,569.9 581.0,569.6 580.0,569.4 579.0,569.2 578.0,568.9 577.0,568.7 576.0,568.4 575.0,568.2 574.0,567.9 573.0,567.7 572.0,567.5 571.0,567.3 570.0,567.2 569.0,567.0 568.0,566.8 567.0,566.7 566.0,566.5 565.0,566.3 564.0,566.2 563.0,566.0 562.0,565.8 561.0,565.7 560.0,565.6 559.0,565.5 558.0,565.4 557.0,565.3 556.0,565.3 555.0,565.2 554.0,565.1 553.0,565.0 552.0,564.9 551.0,564.8 550.0,564.7 549.0,564.7 548.0,564.7 547.0,564.7 546.0,564.7 545.0,564.7 544.0,564.7 543.0,564.7 542.0,564.7 541.0,564.7 540.0,564.7 539.0,564.7 538.0,564.7" fill="#f7b6b6"/>
<polygon points="601.5,573.7 602.5,573.3 603.5,572.9 604.5,572.5 605.5,572.2 606.5,572.4 607.5,572.7 608.5,572.9 609.5,573.1 610.5,573.3 611.5,573.4 612.5,573.4 613.0,573.4 613.0,573.4 612.5,573.4 611.5,573.5 610.5,573.6 609.5,573.7 608.5,573.8 607.5,573.9 606.5,574.0 605.5,574.1 604.5,574.0 603.5,573.9 602.5,573.8 601.5,573.6" fill="#b6ecb6"/>
<polygon points="613.0,573.4 614.0,573.4 615.0,573.4 616.0,573.4 617.0,573.4 618.0,573.1 618.5,572.8 618.5,572.8 618.0,572.9 617.0,573.0 616.0,573.1 615.0,573.2 614.0,573.3 613.0,573.4" fill="#f7b6b6"/>
<polygon points="618.5,572.8 619.5,572.4 620.5,572.0 621.5,571.5 622.5,571.1 623.5,570.7 624.5,570.5 625.5,570.4 626.5,570.2 627.5,570.1 628.5,569.9 629.5,569.8 630.5,569.7 631.5,569.5 632.5,569.4 633.5,569.2 634.5,569.1 635.5,569.1 636.5,569.1 637.5,569.1 638.5,569.1 639.5,569.1 640.5,569.1 641.5,569.1 642.5,569.1 643.5,569.0 644.5,568.9 645.5,568.8 646.5,568.7 647.5,568.5 648.5,568.4 649.5,568.3 650.5,568.2 651.5,568.0 652.5,568.2 653.5,568.4 654.5,568.6 655.5,568.8 656.5,569.0 657.5,569.3 658.5,569.5 659.5,569.7 660.5,569.9 661.5,569.9 662.5,569.9 663.5,570.0 664.5,570.0 665.5,570.0 666.5,570.0 667.5,570.0 668.5,570.1 669.5,570.1 670.5,570.1 671.5,570.1 671.5,570.1 670.5,570.1 669.5,570.1 668.5,570.1 667.5,570.1 666.5,570.1 665.5,570.1 664.5,570.1 663.5,570.1 662.5,570.1 661.5,570.1 660.5,570.0 659.5,570.0 658.5,570.0 657.5,570.0 656.5,570.0 655.5,570.0 654.5,569.9 653.5,569.9 652.5,569.9 651.5,569.9 650.5,570.0 649.5,570.0 648.5,570.1 647.5,570.1 646.5,570.2 645.5,570.2 644.5,570.3 643.5,570.3 642.5,570.4 641.5,570.5 640.5,570.5 639.5,570.6 638.5,570.6 637.5,570.8 636.5,570.9 635.5,571.0 634.5,571.1 633.5,571.2 632.5,571.3 631.5,571.4 630.5,571.6 629.5,571.7 628.5,571.8 627.5,571.9 626.5,572.0 625.5,572.1 624.5,572.2 623.5,572.3 622.5,572.4 621.5,572.5 620.5,572.6 619.5,572.7 618.5,572.8" fill="#b6ecb6"/>
<polygon points="671.5,570.1 672.5,570.1 673.5,570.1 674.5,570.1 675.5,570.1 676.5,570.1 677.5,570.1 678.5,570.1 679.5,570.1 680.5,570.1 681.5,570.1 682.5,570.2 683.5,570.3 684.5,570.4 685.5,570.6 686.5,570.7 687.5,570.8 688.5,570.9 689.5,571.1 690.5,571.2 691.5,571.7 692.5,572.1 693.5,572.6 694.5,573.0 695.5,573.5 696.5,574.0 697.5,574.4 698.5,574.7 699.5,575.0 700.5,575.4 701.5,575.7 702.5,576.1 703.5,576.4 704.5,576.6 705.5,576.7 706.5,576.9 707.5,577.0 708.5,577.2 709.5,577.4 710.5,577.5 711.5,577.7 712.5,577.8 713.5,578.0 714.5,578.2 715.5,578.4 716.5,578.6 717.5,578.8 718.5,579.0 719.5,579.2 720.5,579.4 721.5,579.6 722.5,579.8 723.5,580.0 724.5,580.2 725.5,580.3 726.5,580.3 727.5,580.3 728.5,580.3 729.5,580.3 730.5,580.3 731.5,580.3 732.5,580.3 733.5,580.3 734.5,580.3 735.5,580.3 736.5,580.1 737.5,579.9 738.5,579.7 739.5,579.4 740.5,579.2 741.5,579.0 742.5,578.7 743.5,578.2 744.5,577.7 745.0,577.4 745.0,577.3 744.5,577.3 743.5,577.4 742.5,577.5 741.5,577.6 740.5,577.7 739.5,577.7 738.5,577.6 737.5,577.5 736.5,577.5 735.5,577.4 734.5,577.3 733.5,577.3 732.5,577.2 731.5,577.1 730.5,577.1 729.5,577.0 728.5,576.9 727.5,576.7 726.5,576.5 725.5,576.4 724.5,576.2 723.5,576.1 722.5,575.9 721.5,575.7 720.5,575.6 719.5,575.4 718.5,575.2 717.5,575.1 716.5,574.9 715.5,574.7 714.5,574.6 713.5,574.4 712.5,574.2 711.5,574.1 710.5,573.9 709.5,573.7 708.5,573.6 707.5,573.4 706.5,573.2 705.5,573.0 704.5,572.9 703.5,572.7 702.5,572.5 701.5,572.3 700.5,572.1 699.5,571.9 698.5,571.7 697.5,571.5 696.5,571.3 695.5,571.1 694.5,570.9 693.5,570.7 692.5,570.5 691.5,570.3 690.5,570.1 689.5,570.1 688.5,570.1 687.5,570.1 686.5,570.1 685.5,570.1 684.5,570.1 683.5,570.1 682.5,570.1 681.5,570.1 680.5,570.1 679.5,570.1 678.5,570.1 677.5,570.1 676.5,570.1 675.5,570.1 674.5,570.1 673.5,570.1 672.5,570.1 671.5,570.1" fill="#f7b6b6"/>
<polygon points="745.0,577.4 746.0,576.9 747.0,576.4 748.0,575.9 749.0,575.4 750.0,575.1 751.0,574.8 752.0,574.5 753.0,574.1 754.0,573.8 755.0,573.2 756.0,572.4 757.0,571.7 758.0,571.0 759.0,570.3 760.0,569.6 761.0,568.9 762.0,568.2 763.0,567.5 764.0,566.8 765.0,566.2 766.0,565.5 767.0,564.8 768.0,564.2 769.0,563.5 770.0,562.8 770.3,562.6 770.3,571.2 770.0,571.3 769.0,571.7 768.0,572.0 767.0,572.4 766.0,572.7 765.0,573.0 764.0,573.4 763.0,573.7 762.0,574.1 761.0,574.4 760.0,574.7 759.0,575.1 758.0,575.4 757.0,575.7 756.0,576.0 755.0,576.3 754.0,576.6 753.0,576.7 752.0,576.8 751.0,576.8 750.0,576.9 749.0,577.0 748.0,577.1 747.0,577.1 746.0,577.2 745.0,577.3" fill="#b6ecb6"/>
<g shape-rendering="crispEdges">
<rect x="3" y="557" width="4" height="3" fill="#c23a3a"/>
<rect x="4" y="557" width="2" height="2" fill="#f08585"/>
<rect x="8" y="557" width="4" height="2" fill="#c23a3a"/>
<rect x="9" y="557" width="2" height="1" fill="#f08585"/>
<rect x="14" y="557" width="4" height="2" fill="#c23a3a"/>
<rect x="15" y="557" width="2" height="1" fill="#f08585"/>
<rect x="20" y="557" width="4" height="2" fill="#c23a3a"/>
<rect x="21" y="557" width="2" height="1" fill="#f08585"/>
<rect x="25" y="557" width="4" height="2" fill="#c23a3a"/>
<rect x="26" y="557" width="2" height="1" fill="#f08585"/>
<rect x="31" y="557" width="4" height="2" fill="#c23a3a"/>
<rect x="32" y="557" width="2" height="1" fill="#f08585"/>
<rect x="37" y="557" width="4" height="2" fill="#c23a3a"/>
<rect x="38" y="557" width="2" height="1" fill="#f08585"/>
<rect x="42" y="557" width="4" height="2" fill="#c23a3a"/>
<rect x="43" y="557" width="2" height="1" fill="#f08585"/>
<rect x="48" y="557" width="4" height="2" fill="#c23a3a"/>
<rect x="49" y="557" width="2" height="1" fill="#f08585"/>
<rect x="54" y="557" width="4" height="3" fill="#c23a3a"/>
<rect x="55" y="557" width="2" height="2" fill="#f08585"/>
<rect x="59" y="557" width="4" height="4" fill="#c23a3a"/>
<rect x="60" y="557" width="2" height="3" fill="#f08585"/>
<rect x="65" y="557" width="4" height="6" fill="#c23a3a"/>
<rect x="66" y="557" width="2" height="5" fill="#f08585"/>
<rect x="71" y="557" width="4" height="7" fill="#c23a3a"/>
<rect x="72" y="557" width="2" height="6" fill="#f08585"/>
<rect x="76" y="557" width="4" height="7" fill="#c23a3a"/>
<rect x="77" y="557" width="2" height="6" fill="#f08585"/>
<rect x="82" y="557" width="4" height="7" fill="#c23a3a"/>
<rect x="83" y="557" width="2" height="6" fill="#f08585"/>
<rect x="88" y="557" width="4" height="7" fill="#c23a3a"/>
<rect x="89" y="557" width="2" height="6" fill="#f08585"/>
<rect x="93" y="557" width="4" height="8" fill="#c23a3a"/>
<rect x="94" y="557" width="2" height="7" fill="#f08585"/>
<rect x="99" y="557" width="4" height="9" fill="#c23a3a"/>
<rect x="100" y="557" width="2" height="8" fill="#f08585"/>
<rect x="105" y="557" width="4" height="9" fill="#c23a3a"/>
<rect x="106" y="557" width="2" height="8" fill="#f08585"/>
<rect x="110" y="557" width="4" height="9" fill="#c23a3a"/>
<rect x="111" y="557" width="2" height="8" fill="#f08585"/>
<rect x="116" y="557" width="4" height="9" fill="#c23a3a"/>
<rect x="117" y="557" width="2" height="8" fill="#f08585"/>
<rect x="122" y="557" width="4" height="8" fill="#c23a3a"/>
<rect x="123" y="557" width="2" height="7" fill="#f08585"/>
<rect x="127" y="557" width="4" height="7" fill="#c23a3a"/>
<rect x="128" y="557" width="2" height="6" fill="#f08585"/>
<rect x="133" y="557" width="4" height="5" fill="#c23a3a"/>
<rect x="134" y="557" width="2" height="4" fill="#f08585"/>
<rect x="139" y="557" width="4" height="4" fill="#c23a3a"/>
<rect x="140" y="557" width="2" height="3" fill="#f08585"/>
<rect x="144" y="557" width="4" height="2" fill="#c23a3a"/>
<rect x="145" y="557" width="2" height="1" fill="#f08585"/>
<rect x="150" y="557" width="4" height="1" fill="#c23a3a"/>
<rect x="161" y="554" width="4" height="2" fill="#1fa01f"/>
<rect x="162" y="555" width="2" height="1" fill="#5ce85c"/>
<rect x="167" y="553" width="4" height="3" fill="#1fa01f"/>
<rect x="168" y="554" width="2" height="2" fill="#5ce85c"/>
<rect x="173" y="552" width="4" height="4" fill="#1fa01f"/>
<rect x="174" y="553" width="2" height="3" fill="#5ce85c"/>
<rect x="178" y="552" width="4" height="4" fill="#1fa01f"/>
<rect x="179" y="553" width="2" height="3" fill="#5ce85c"/>
<rect x="184" y="552" width="4" height="4" fill="#1fa01f"/>
<rect x="185" y="553" width="2" height="3" fill="#5ce85c"/>
<rect x="190" y="552" width="4" height="4" fill="#1fa01f"/>
<rect x="191" y="553" width="2" height="3" fill="#5ce85c"/>
<rect x="195" y="552" width="4" height="4" fill="#1fa01f"/>
<rect x="196" y="553" width="2" height="3" fill="#5ce85c"/>
<rect x="201" y="552" width="4" height="4" fill="#1fa01f"/>
<rect x="202" y="553" width="2" height="3" fill="#5ce85c"/>
<rect x="207" y="552" width="4" height="4" fill="#1fa01f"/>
<rect x="208" y="553" width="2" height="3" fill="#5ce85c"/>
<rect x="212" y="553" width="4" height="3" fill="#1fa01f"/>
<rect x="213" y="554" width="2" height="2" fill="#5ce85c"/>
<rect x="218" y="553" width="4" height="3" fill="#1fa01f"/>
<rect x="219" y="554" width="2" height="2" fill="#5ce85c"/>
<rect x="224" y="553" width="4" height="3" fill="#1fa01f"/>
<rect x="225" y="554" width="2" height="2" fill="#5ce85c"/>
<rect x="229" y="553" width="4" height="3" fill="#1fa01f"/>
<rect x="230" y="554" width="2" height="2" fill="#5ce85c"/>
<rect x="235" y="553" width="4" height="3" fill="#1fa01f"/>
<rect x="236" y="554" width="2" height="2" fill="#5ce85c"/>
<rect x="241" y="554" width="4" height="2" fill="#1fa01f"/>
<rect x="242" y="555" width="2" height="1" fill="#5ce85c"/>
<rect x="246" y="553" width="4" height="3" fill="#1fa01f"/>
<rect x="247" y="554" width="2" height="2" fill="#5ce85c"/>
<rect x="252" y="553" width="4" height="3" fill="#1fa01f"/>
<rect x="253" y="554" width="2" height="2" fill="#5ce85c"/>
<rect x="258" y="553" width="4" height="3" fill="#1fa01f"/>
<rect x="259" y="554" width="2" height="2" fill="#5ce85c"/>
<rect x="263" y="554" width="4" height="2" fill="#1fa01f"/>
<rect x="264" y="555" width="2" height="1" fill="#5ce85c"/>
<rect x="269" y="555" width="4" height="1" fill="#1fa01f"/>
<rect x="275" y="555" width="4" height="1" fill="#1fa01f"/>
<rect x="280" y="554" width="4" height="2" fill="#1fa01f"/>
<rect x="281" y="555" width="2" height="1" fill="#5ce85c"/>
<rect x="286" y="554" width="4" height="2" fill="#1fa01f"/>
<rect x="287" y="555" width="2" height="1" fill="#5ce85c"/>
<rect x="292" y="555" width="4" height="1" fill="#1fa01f"/>
<rect x="297" y="555" width="4" height="1" fill="#1fa01f"/>
<rect x="303" y="557" width="4" height="2" fill="#c23a3a"/>
<rect x="304" y="557" width="2" height="1" fill="#f08585"/>
<rect x="309" y="557" width="4" height="2" fill="#c23a3a"/>
<rect x="310" y="557" width="2" height="1" fill="#f08585"/>
<rect x="314" y="557" width="4" height="2" fill="#c23a3a"/>
<rect x="315" y="557" width="2" height="1" fill="#f08585"/>
<rect x="320" y="557" width="4" height="2" fill="#c23a3a"/>
<rect x="321" y="557" width="2" height="1" fill="#f08585"/>
<rect x="326" y="555" width="4" height="1" fill="#1fa01f"/>
<rect x="331" y="555" width="4" height="1" fill="#1fa01f"/>
<rect x="337" y="555" width="4" height="1" fill="#1fa01f"/>
<rect x="343" y="555" width="4" height="1" fill="#1fa01f"/>
<rect x="348" y="557" width="4" height="1" fill="#c23a3a"/>
<rect x="354" y="557" width="4" height="2" fill="#c23a3a"/>
<rect x="355" y="557" width="2" height="1" fill="#f08585"/>
<rect x="360" y="557" width="4" height="3" fill="#c23a3a"/>
<rect x="361" y="557" width="2" height="2" fill="#f08585"/>
<rect x="365" y="557" width="4" height="4" fill="#c23a3a"/>
<rect x="366" y="557" width="2" height="3" fill="#f08585"/>
<rect x="371" y="557" width="4" height="4" fill="#c23a3a"/>
<rect x="372" y="557" width="2" height="3" fill="#f08585"/>
<rect x="377" y="557" width="4" height="5" fill="#c23a3a"/>
<rect x="378" y="557" width="2" height="4" fill="#f08585"/>
<rect x="382" y="557" width="4" height="6" fill="#c23a3a"/>
<rect x="383" y="557" width="2" height="5" fill="#f08585"/>
<rect x="388" y="557" width="4" height="7" fill="#c23a3a"/>
<rect x="389" y="557" width="2" height="6" fill="#f08585"/>
<rect x="394" y="557" width="4" height="6" fill="#c23a3a"/>
<rect x="395" y="557" width="2" height="5" fill="#f08585"/>
<rect x="399" y="557" width="4" height="5" fill="#c23a3a"/>
<rect x="400" y="557" width="2" height="4" fill="#f08585"/>
<rect x="405" y="557" width="4" height="3" fill="#c23a3a"/>
<rect x="406" y="557" width="2" height="2" fill="#f08585"/>
<rect x="411" y="557" width="4" height="2" fill="#c23a3a"/>
<rect x="412" y="557" width="2" height="1" fill="#f08585"/>
<rect x="416" y="557" width="4" height="2" fill="#c23a3a"/>
<rect x="417" y="557" width="2" height="1" fill="#f08585"/>
<rect x="422" y="557" width="4" height="2" fill="#c23a3a"/>
<rect x="423" y="557" width="2" height="1" fill="#f08585"/>
<rect x="428" y="557" width="4" height="1" fill="#c23a3a"/>
<rect x="433" y="557" width="4" height="1" fill="#c23a3a"/>
<rect x="439" y="555" width="4" height="1" fill="#1fa01f"/>
<rect x="445" y="555" width="4" height="1" fill="#1fa01f"/>
<rect x="450" y="555" width="4" height="1" fill="#1fa01f"/>
<rect x="456" y="555" width="4" height="1" fill="#1fa01f"/>
<rect x="473" y="555" width="4" height="1" fill="#1fa01f"/>
<rect x="479" y="555" width="4" height="1" fill="#1fa01f"/>
<rect x="484" y="555" width="4" height="1" fill="#1fa01f"/>
<rect x="490" y="555" width="4" height="1" fill="#1fa01f"/>
<rect x="496" y="555" width="4" height="1" fill="#1fa01f"/>
<rect x="501" y="554" width="4" height="2" fill="#1fa01f"/>
<rect x="502" y="555" width="2" height="1" fill="#5ce85c"/>
<rect x="507" y="553" width="4" height="3" fill="#1fa01f"/>
<rect x="508" y="554" width="2" height="2" fill="#5ce85c"/>
<rect x="513" y="552" width="4" height="4" fill="#1fa01f"/>
<rect x="514" y="553" width="2" height="3" fill="#5ce85c"/>
<rect x="518" y="551" width="4" height="5" fill="#1fa01f"/>
<rect x="519" y="552" width="2" height="4" fill="#5ce85c"/>
<rect x="524" y="552" width="4" height="4" fill="#1fa01f"/>
<rect x="525" y="553" width="2" height="3" fill="#5ce85c"/>
<rect x="530" y="554" width="4" height="2" fill="#1fa01f"/>
<rect x="531" y="555" width="2" height="1" fill="#5ce85c"/>
<rect x="535" y="555" width="4" height="1" fill="#1fa01f"/>
<rect x="541" y="555" width="4" height="1" fill="#1fa01f"/>
<rect x="552" y="557" width="4" height="1" fill="#c23a3a"/>
<rect x="558" y="557" width="4" height="2" fill="#c23a3a"/>
<rect x="559" y="557" width="2" height="1" fill="#f08585"/>
<rect x="564" y="557" width="4" height="2" fill="#c23a3a"/>
<rect x="565" y="557" width="2" height="1" fill="#f08585"/>
<rect x="569" y="557" width="4" height="3" fill="#c23a3a"/>
<rect x="570" y="557" width="2" height="2" fill="#f08585"/>
<rect x="575" y="557" width="4" height="4" fill="#c23a3a"/>
<rect x="576" y="557" width="2" height="3" fill="#f08585"/>
<rect x="581" y="557" width="4" height="5" fill="#c23a3a"/>
<rect x="582" y="557" width="2" height="4" fill="#f08585"/>
<rect x="586" y="557" width="4" height="5" fill="#c23a3a"/>
<rect x="587" y="557" width="2" height="4" fill="#f08585"/>
<rect x="592" y="557" width="4" height="4" fill="#c23a3a"/>
<rect x="593" y="557" width="2" height="3" fill="#f08585"/>
<rect x="598" y="557" width="4" height="1" fill="#c23a3a"/>
<rect x="620" y="554" width="4" height="2" fill="#1fa01f"/>
<rect x="621" y="555" width="2" height="1" fill="#5ce85c"/>
<rect x="626" y="554" width="4" height="2" fill="#1fa01f"/>
<rect x="627" y="555" width="2" height="1" fill="#5ce85c"/>
<rect x="632" y="554" width="4" height="2" fill="#1fa01f"/>
<rect x="633" y="555" width="2" height="1" fill="#5ce85c"/>
<rect x="637" y="554" width="4" height="2" fill="#1fa01f"/>
<rect x="638" y="555" width="2" height="1" fill="#5ce85c"/>
<rect x="643" y="554" width="4" height="2" fill="#1fa01f"/>
<rect x="644" y="555" width="2" height="1" fill="#5ce85c"/>
<rect x="649" y="554" width="4" height="2" fill="#1fa01f"/>
<rect x="650" y="555" width="2" height="1" fill="#5ce85c"/>
<rect x="654" y="555" width="4" height="1" fill="#1fa01f"/>
<rect x="688" y="557" width="4" height="1" fill="#c23a3a"/>
<rect x="694" y="557" width="4" height="3" fill="#c23a3a"/>
<rect x="695" y="557" width="2" height="2" fill="#f08585"/>
<rect x="700" y="557" width="4" height="4" fill="#c23a3a"/>
<rect x="701" y="557" width="2" height="3" fill="#f08585"/>
<rect x="705" y="557" width="4" height="4" fill="#c23a3a"/>
<rect x="706" y="557" width="2" height="3" fill="#f08585"/>
<rect x="711" y="557" width="4" height="4" fill="#c23a3a"/>
<rect x="712" y="557" width="2" height="3" fill="#f08585"/>
<rect x="717" y="557" width="4" height="4" fill="#c23a3a"/>
<rect x="718" y="557" width="2" height="3" fill="#f08585"/>
<rect x="722" y="557" width="4" height="3" fill="#c23a3a"/>
<rect x="723" y="557" width="2" height="2" fill="#f08585"/>
<rect x="728" y="557" width="4" height="3" fill="#c23a3a"/>
<rect x="729" y="557" width="2" height="2" fill="#f08585"/>
<rect x="734" y="557" width="4" height="2" fill="#c23a3a"/>
<rect x="735" y="557" width="2" height="1" fill="#f08585"/>
<rect x="739" y="557" width="4" height="1" fill="#c23a3a"/>
<rect x="745" y="555" width="4" height="1" fill="#1fa01f"/>
<rect x="751" y="553" width="4" height="3" fill="#1fa01f"/>
<rect x="752" y="554" width="2" height="2" fill="#5ce85c"/>
<rect x="756" y="550" width="4" height="6" fill="#1fa01f"/>
<rect x="757" y="551" width="2" height="5" fill="#5ce85c"/>
<rect x="762" y="549" width="4" height="7" fill="#1fa01f"/>
<rect x="763" y="550" width="2" height="6" fill="#5ce85c"/>
<rect x="768" y="547" width="4" height="9" fill="#1fa01f"/>
<rect x="769" y="548" width="2" height="8" fill="#5ce85c"/>
</g>
<rect x="1" y="556" width="776" height="1" fill="#2222dd"/>
<polyline points="70.0,548.0 80.5,551.9 90.1,556.1 99.6,560.3 109.2,564.1 118.8,567.2 128.4,569.9 138.0,571.8 147.5,572.4 155.0,571.8 161.5,572.4 169.2,571.0 176.8,569.5 184.5,568.1 192.2,567.0 199.8,565.7 207.5,564.7 215.1,563.7 222.8,562.8 230.5,561.8 238.1,560.9 245.8,560.3 253.5,559.5 261.1,559.0 268.8,559.0 276.5,558.4 284.1,557.6 291.8,557.0 299.5,557.2 307.7,558.4 315.3,559.5 323.0,559.5 330.7,559.0 338.3,558.4 346.0,558.4 353.7,559.0 361.3,560.3 369.0,561.8 376.6,563.7 384.3,565.7 392.0,568.0 399.6,569.5 407.3,570.4 415.0,571.0 422.6,571.8 434.1,572.4 445.6,572.4 461.5,572.4 473.0,572.4 484.5,571.4 496.0,571.4 507.5,569.5 515.1,568.0 526.6,565.7 538.1,564.7 549.6,564.7 561.1,565.7 572.6,567.6 584.1,570.4 595.6,572.9 605.2,574.1 612.9,573.4 625.9,572.1 638.8,570.6 651.7,569.9 664.7,570.1 677.6,570.1 690.5,570.1 703.5,572.7 716.4,574.9 729.3,577.0 740.1,577.7 748.7,577.0 754.1,576.6 761.7,574.2 770.3,571.2" fill="none" stroke="#e06666" stroke-width="2.05" stroke-linejoin="round"/>
<polyline points="50.0,548.0 59.4,551.9 71.9,556.5 86.2,561.8 95.8,566.6 105.4,571.4 115.0,575.6 124.5,577.5 134.1,576.8 143.7,573.3 150.0,572.4 157.7,572.4 165.3,569.5 173.0,567.2 180.7,565.1 188.3,563.7 196.0,562.2 203.6,561.4 211.3,560.9 219.0,559.9 226.6,559.0 234.3,558.6 242.0,558.0 249.6,557.0 257.3,557.0 265.0,557.6 272.6,557.6 280.3,556.5 288.0,556.5 295.6,557.0 300.0,558.0 305.7,559.5 311.5,561.4 317.2,561.4 323.0,560.3 330.7,559.0 338.3,558.4 346.0,559.0 353.7,561.8 361.3,563.7 369.0,566.6 376.6,569.5 384.3,572.4 390.1,574.9 395.8,575.8 401.6,575.6 407.3,573.3 413.0,572.4 418.8,573.3 426.5,573.3 436.0,572.9 445.6,571.4 453.3,571.2 457.7,571.0 465.3,572.4 473.0,571.8 480.7,570.4 488.3,570.1 499.8,570.4 507.5,566.6 515.1,564.1 526.6,562.4 532.4,564.7 538.1,564.7 545.8,565.7 555.4,567.6 565.0,569.5 572.6,571.4 580.3,574.3 588.9,577.5 597.5,575.2 605.4,572.2 610.8,573.4 617.2,573.4 623.7,570.6 634.5,569.1 643.1,569.1 651.7,568.0 660.4,569.9 671.1,570.1 681.9,570.1 690.5,571.2 697.0,574.2 703.5,576.4 714.2,578.1 725.0,580.3 735.8,580.3 742.3,578.8 748.7,575.5 754.1,573.8 761.7,568.4 770.3,562.6" fill="none" stroke="#3333dd" stroke-width="2.4" stroke-linejoin="round"/>
</g>
<rect x="1" y="21" width="35" height="14" fill="url(#tab)"/>
<rect x="35" y="21" width="1" height="14" fill="#8f9ea8"/>
<rect x="1" y="34" width="35" height="1" fill="#8f9ea8"/>
<rect x="1" y="21" width="1" height="13" fill="#f1f6f9"/>
<text x="2.6" y="31.4" font-family="Liberation Sans, sans-serif" font-size="11" fill="#000" textLength="31.0" lengthAdjust="spacingAndGlyphs">Precio</text>
<rect x="36" y="21" width="78" height="14" fill="url(#tab)"/>
<rect x="113" y="21" width="1" height="14" fill="#8f9ea8"/>
<rect x="36" y="34" width="78" height="1" fill="#8f9ea8"/>
<rect x="36" y="21" width="1" height="13" fill="#f1f6f9"/>
<text x="38.1" y="31.4" font-family="Liberation Sans, sans-serif" font-size="11" fill="#1a6cff" textLength="73.2" lengthAdjust="spacingAndGlyphs">MM (Simple 20)</text>
<rect x="114" y="21" width="78" height="14" fill="url(#tab)"/>
<rect x="191" y="21" width="1" height="14" fill="#8f9ea8"/>
<rect x="114" y="34" width="78" height="1" fill="#8f9ea8"/>
<rect x="114" y="21" width="1" height="13" fill="#f1f6f9"/>
<text x="115.4" y="31.4" font-family="Liberation Sans, sans-serif" font-size="11" fill="#d2c80a" textLength="73.2" lengthAdjust="spacingAndGlyphs">MM (Simple 50)</text>
<rect x="192" y="21" width="84" height="14" fill="url(#tab)"/>
<rect x="275" y="21" width="1" height="14" fill="#8f9ea8"/>
<rect x="192" y="34" width="84" height="1" fill="#8f9ea8"/>
<rect x="192" y="21" width="1" height="13" fill="#f1f6f9"/>
<text x="194.0" y="31.4" font-family="Liberation Sans, sans-serif" font-size="11" fill="#e06c6c" textLength="79.5" lengthAdjust="spacingAndGlyphs">MM (Simple 200)</text>
<rect x="276" y="21" width="78" height="14" fill="url(#tab)"/>
<rect x="353" y="21" width="1" height="14" fill="#8f9ea8"/>
<rect x="276" y="34" width="78" height="1" fill="#8f9ea8"/>
<rect x="276" y="21" width="1" height="13" fill="#f1f6f9"/>
<text x="277.9" y="31.4" font-family="Liberation Sans, sans-serif" font-size="11" fill="#ff33cc" textLength="73.2" lengthAdjust="spacingAndGlyphs">MM (Simple 30)</text>
<rect x="354" y="21" width="84" height="14" fill="url(#tab)"/>
<rect x="437" y="21" width="1" height="14" fill="#8f9ea8"/>
<rect x="354" y="34" width="84" height="1" fill="#8f9ea8"/>
<rect x="354" y="21" width="1" height="13" fill="#f1f6f9"/>
<text x="355.9" y="31.4" font-family="Liberation Sans, sans-serif" font-size="11" fill="#1a1ad0" textLength="79.5" lengthAdjust="spacingAndGlyphs">MM (Simple 130)</text>
<rect x="1" y="398" width="47" height="14" fill="url(#tab)"/>
<rect x="47" y="398" width="1" height="14" fill="#8f9ea8"/>
<rect x="1" y="411" width="47" height="1" fill="#8f9ea8"/>
<rect x="1" y="398" width="1" height="13" fill="#f1f6f9"/>
<text x="2.5" y="408.4" font-family="Liberation Sans, sans-serif" font-size="11" fill="#5ad85a" textLength="42.4" lengthAdjust="spacingAndGlyphs">Volumen</text>
<rect x="48" y="398" width="78" height="14" fill="url(#tab)"/>
<rect x="125" y="398" width="1" height="14" fill="#8f9ea8"/>
<rect x="48" y="411" width="78" height="1" fill="#8f9ea8"/>
<rect x="48" y="398" width="1" height="13" fill="#f1f6f9"/>
<text x="49.9" y="408.4" font-family="Liberation Sans, sans-serif" font-size="11" fill="#000" textLength="73.2" lengthAdjust="spacingAndGlyphs">MM (Simple 20)</text>
<rect x="1" y="477" width="22" height="14" fill="url(#tab)"/>
<rect x="22" y="477" width="1" height="14" fill="#8f9ea8"/>
<rect x="1" y="490" width="22" height="1" fill="#8f9ea8"/>
<rect x="1" y="477" width="1" height="13" fill="#f1f6f9"/>
<text x="3.0" y="487.4" font-family="Liberation Sans, sans-serif" font-size="11" fill="#000" textLength="17.3" lengthAdjust="spacingAndGlyphs">%K</text>
<rect x="23" y="477" width="63" height="14" fill="url(#tab)"/>
<rect x="85" y="477" width="1" height="14" fill="#8f9ea8"/>
<rect x="23" y="490" width="63" height="1" fill="#8f9ea8"/>
<rect x="23" y="477" width="1" height="13" fill="#f1f6f9"/>
<text x="25.1" y="487.4" font-family="Liberation Sans, sans-serif" font-size="11" fill="#e06c6c" textLength="57.9" lengthAdjust="spacingAndGlyphs">%D (14 3 5)</text>
<rect x="1" y="538" width="71" height="14" fill="url(#tab)"/>
<rect x="71" y="538" width="1" height="14" fill="#8f9ea8"/>
<rect x="1" y="551" width="71" height="1" fill="#8f9ea8"/>
<rect x="1" y="538" width="1" height="13" fill="#f1f6f9"/>
<text x="3.0" y="548.4" font-family="Liberation Sans, sans-serif" font-size="11" fill="#5ad85a" textLength="66.2" lengthAdjust="spacingAndGlyphs">MACD-, señal</text>
<rect x="72" y="538" width="32" height="14" fill="url(#tab)"/>
<rect x="103" y="538" width="1" height="14" fill="#8f9ea8"/>
<rect x="72" y="551" width="32" height="1" fill="#8f9ea8"/>
<rect x="72" y="538" width="1" height="13" fill="#f1f6f9"/>
<text x="73.9" y="548.4" font-family="Liberation Sans, sans-serif" font-size="11" fill="#e06c6c" textLength="27.7" lengthAdjust="spacingAndGlyphs">Señal</text>
<rect x="104" y="538" width="82" height="14" fill="url(#tab)"/>
<rect x="185" y="538" width="1" height="14" fill="#8f9ea8"/>
<rect x="104" y="551" width="82" height="1" fill="#8f9ea8"/>
<rect x="104" y="538" width="1" height="13" fill="#f1f6f9"/>
<text x="105.5" y="548.4" font-family="Liberation Sans, sans-serif" font-size="11" fill="#3333dd" textLength="77.7" lengthAdjust="spacingAndGlyphs">MACD (12 26 9)</text>
<g shape-rendering="crispEdges">
<rect x="6" y="8" width="1" height="11" fill="#b82222"/><rect x="3" y="10" width="7" height="7" fill="#c02a2a"/><rect x="4" y="11" width="5" height="5" fill="#f47c7c"/>
<rect x="14" y="3" width="1" height="16" fill="#109a10"/><rect x="11" y="6" width="7" height="10" fill="#12a012"/><rect x="12" y="7" width="5" height="8" fill="#62e462"/>
</g>
<text x="23.1" y="15" font-family="Liberation Sans, sans-serif" font-size="10.6" font-weight="bold" fill="#000" text-anchor="start" textLength="53.7" lengthAdjust="spacingAndGlyphs">ACERINOX</text>
<text x="86.0" y="15" font-family="Liberation Sans, sans-serif" font-size="10.6" font-weight="bold" fill="#000" text-anchor="start" textLength="30.6" lengthAdjust="spacingAndGlyphs">Diario</text>
<text x="126.2" y="15" font-family="Liberation Sans, sans-serif" font-size="10.6" font-weight="bold" fill="#000" text-anchor="start" textLength="26.7" lengthAdjust="spacingAndGlyphs">9,756</text>
<text x="156.3" y="15" font-family="Liberation Sans, sans-serif" font-size="10.6" font-weight="bold" fill="#000" text-anchor="start" textLength="43.9" lengthAdjust="spacingAndGlyphs">(+2,88%)</text>
<text x="209" y="15" font-family="Liberation Sans, sans-serif" font-size="10.6" font-weight="bold" fill="#000" text-anchor="start" textLength="60.8" lengthAdjust="spacingAndGlyphs">09-oct-2015</text>
<text x="702.3" y="15" font-family="Liberation Sans, sans-serif" font-size="11" font-weight="bold" fill="#000" text-anchor="start" textLength="129.6" lengthAdjust="spacingAndGlyphs">www.ProRealTime.com</text>
<text x="3.3" y="41.9" font-family="Liberation Sans, sans-serif" font-size="10" font-weight="normal" fill="#000" letter-spacing="0.44" text-rendering="geometricPrecision">15,647</text>
<text x="3.3" y="153.9" font-family="Liberation Sans, sans-serif" font-size="10" font-weight="normal" fill="#000" letter-spacing="0.44" text-rendering="geometricPrecision">12,98</text>
<text x="3.3" y="201.5" font-family="Liberation Sans, sans-serif" font-size="10" font-weight="normal" fill="#000" letter-spacing="0.44" text-rendering="geometricPrecision">11,84</text>
<text x="3.3" y="253.8" font-family="Liberation Sans, sans-serif" font-size="10" font-weight="normal" fill="#000" letter-spacing="0.44" text-rendering="geometricPrecision">10,585</text>
<text x="3.3" y="299.6" font-family="Liberation Sans, sans-serif" font-size="10" font-weight="normal" fill="#000" letter-spacing="0.44" text-rendering="geometricPrecision">9,483</text>
<text x="3.3" y="328.5" font-family="Liberation Sans, sans-serif" font-size="10" font-weight="normal" fill="#000" letter-spacing="0.44" text-rendering="geometricPrecision">8,811</text>
<text x="3.3" y="345.3" font-family="Liberation Sans, sans-serif" font-size="10" font-weight="normal" fill="#000" letter-spacing="0.44" text-rendering="geometricPrecision">8,399</text>
<text x="3.3" y="374.6" font-family="Liberation Sans, sans-serif" font-size="10" font-weight="normal" fill="#000" letter-spacing="0.44" text-rendering="geometricPrecision">7,7</text>
<text x="2.8" y="391.3" font-family="Liberation Sans, sans-serif" font-size="10.2" font-weight="normal" fill="#000" text-anchor="start" textLength="94" lengthAdjust="spacingAndGlyphs">© ProRealTime.com</text>
<text x="100.6" y="391.3" font-family="Liberation Sans, sans-serif" font-size="10.2" font-weight="normal" fill="#000" text-anchor="start" textLength="174.8" lengthAdjust="spacingAndGlyphs">Históricos ajustados con dividendos</text>
<rect x="778" y="29" width="4" height="1" fill="#9eabb3"/>
<text x="784.5" y="33.0" font-family="Liberation Sans, sans-serif" font-size="10.5" font-weight="normal" fill="#000" text-anchor="start">16</text>
<rect x="778" y="50" width="4" height="1" fill="#9eabb3"/>
<text x="784.5" y="54.0" font-family="Liberation Sans, sans-serif" font-size="10.5" font-weight="normal" fill="#000" text-anchor="start">15,5</text>
<rect x="778" y="71" width="4" height="1" fill="#9eabb3"/>
<text x="784.5" y="75.4" font-family="Liberation Sans, sans-serif" font-size="12" font-weight="bold" fill="#000" text-anchor="start">15</text>
<rect x="778" y="92" width="4" height="1" fill="#9eabb3"/>
<text x="784.5" y="96.0" font-family="Liberation Sans, sans-serif" font-size="10.5" font-weight="normal" fill="#000" text-anchor="start">14,5</text>
<rect x="778" y="113" width="4" height="1" fill="#9eabb3"/>
<text x="784.5" y="117.0" font-family="Liberation Sans, sans-serif" font-size="10.5" font-weight="normal" fill="#000" text-anchor="start">14</text>
<rect x="778" y="134" width="4" height="1" fill="#9eabb3"/>
<text x="784.5" y="138.0" font-family="Liberation Sans, sans-serif" font-size="10.5" font-weight="normal" fill="#000" text-anchor="start">13,5</text>
<rect x="778" y="155" width="4" height="1" fill="#9eabb3"/>
<text x="784.5" y="159.0" font-family="Liberation Sans, sans-serif" font-size="10.5" font-weight="normal" fill="#000" text-anchor="start">13</text>
<rect x="778" y="176" width="4" height="1" fill="#9eabb3"/>
<text x="784.5" y="180.0" font-family="Liberation Sans, sans-serif" font-size="10.5" font-weight="normal" fill="#000" text-anchor="start">12,5</text>
<rect x="778" y="197" width="4" height="1" fill="#9eabb3"/>
<text x="784.5" y="201.0" font-family="Liberation Sans, sans-serif" font-size="10.5" font-weight="normal" fill="#000" text-anchor="start">12</text>
<rect x="778" y="218" width="4" height="1" fill="#9eabb3"/>
<text x="784.5" y="222.0" font-family="Liberation Sans, sans-serif" font-size="10.5" font-weight="normal" fill="#000" text-anchor="start">11,5</text>
<rect x="778" y="239" width="4" height="1" fill="#9eabb3"/>
<text x="784.5" y="243.0" font-family="Liberation Sans, sans-serif" font-size="10.5" font-weight="normal" fill="#000" text-anchor="start">11</text>
<rect x="778" y="260" width="4" height="1" fill="#9eabb3"/>
<text x="784.5" y="264.0" font-family="Liberation Sans, sans-serif" font-size="10.5" font-weight="normal" fill="#000" text-anchor="start">10,5</text>
<rect x="778" y="281" width="4" height="1" fill="#9eabb3"/>
<text x="784.5" y="285.0" font-family="Liberation Sans, sans-serif" font-size="10.5" font-weight="normal" fill="#000" text-anchor="start">10</text>
<rect x="778" y="302" width="4" height="1" fill="#9eabb3"/>
<text x="784.5" y="306.0" font-family="Liberation Sans, sans-serif" font-size="10.5" font-weight="normal" fill="#000" text-anchor="start">9,5</text>
<rect x="778" y="323" width="4" height="1" fill="#9eabb3"/>
<text x="784.5" y="327.0" font-family="Liberation Sans, sans-serif" font-size="10.5" font-weight="normal" fill="#000" text-anchor="start">9</text>
<rect x="778" y="344" width="4" height="1" fill="#9eabb3"/>
<text x="784.5" y="348.0" font-family="Liberation Sans, sans-serif" font-size="10.5" font-weight="normal" fill="#000" text-anchor="start">8,5</text>
<rect x="778" y="365" width="4" height="1" fill="#9eabb3"/>
<text x="784.5" y="369.0" font-family="Liberation Sans, sans-serif" font-size="10.5" font-weight="normal" fill="#000" text-anchor="start">8</text>
<rect x="778" y="386" width="4" height="1" fill="#9eabb3"/>
<text x="784.5" y="390.0" font-family="Liberation Sans, sans-serif" font-size="10.5" font-weight="normal" fill="#000" text-anchor="start">7,5</text>
<rect x="778" y="180" width="4" height="1" fill="#d97070"/>
<rect x="782.5" y="172.5" width="36" height="15" fill="url(#boxg)" stroke="#8e9da6" stroke-width="1" shape-rendering="crispEdges"/>
<text x="784.6" y="183.9" font-family="Liberation Sans, sans-serif" font-size="11" font-weight="normal" fill="#e06c6c" textLength="32.4" lengthAdjust="spacingAndGlyphs">12,396</text>
<rect x="778" y="208" width="4" height="1" fill="#0000d0"/>
<rect x="782.5" y="200.5" width="36" height="15" fill="url(#boxg)" stroke="#8e9da6" stroke-width="1" shape-rendering="crispEdges"/>
<text x="784.6" y="211.9" font-family="Liberation Sans, sans-serif" font-size="11" font-weight="normal" fill="#1a1ad0" textLength="32.4" lengthAdjust="spacingAndGlyphs">11,726</text>
<rect x="782.5" y="276.5" width="36" height="15" fill="url(#boxg)" stroke="#8e9da6" stroke-width="1" shape-rendering="crispEdges"/>
<text x="784.6" y="287.9" font-family="Liberation Sans, sans-serif" font-size="11" font-weight="normal" fill="#d2c80a" textLength="32.4" lengthAdjust="spacingAndGlyphs">9,7624</text>
<rect x="778" y="317" width="4" height="1" fill="#ff33cc"/>
<rect x="782.5" y="309.5" width="36" height="15" fill="url(#boxg)" stroke="#8e9da6" stroke-width="1" shape-rendering="crispEdges"/>
<text x="784.6" y="320.9" font-family="Liberation Sans, sans-serif" font-size="11" font-weight="normal" fill="#ff33cc" textLength="32.4" lengthAdjust="spacingAndGlyphs">9,1306</text>
<rect x="778" y="334" width="4" height="1" fill="#0a6cff"/>
<rect x="782.5" y="326.5" width="36" height="15" fill="url(#boxg)" stroke="#8e9da6" stroke-width="1" shape-rendering="crispEdges"/>
<text x="784.6" y="337.9" font-family="Liberation Sans, sans-serif" font-size="11" font-weight="normal" fill="#1a6cff" textLength="32.4" lengthAdjust="spacingAndGlyphs">8,7282</text>
<rect x="778" y="291" width="4" height="1" fill="#000"/>
<rect x="782.5" y="291.5" width="30" height="14" fill="url(#gold)" stroke="#b9a56a" stroke-width="1" shape-rendering="crispEdges"/>
<text x="784.6" y="301.9" font-family="Liberation Sans, sans-serif" font-size="11" font-weight="bold" fill="#000" textLength="27" lengthAdjust="spacingAndGlyphs">9,756</text>
<rect x="778" y="463" width="2" height="1" fill="#9eabb3"/>
<rect x="778" y="454" width="2" height="1" fill="#9eabb3"/>
<rect x="778" y="444" width="2" height="1" fill="#9eabb3"/>
<rect x="778" y="434" width="2" height="1" fill="#9eabb3"/>
<rect x="778" y="425" width="2" height="1" fill="#9eabb3"/>
<rect x="778" y="415" width="4" height="1" fill="#9eabb3"/>
<rect x="778" y="405" width="2" height="1" fill="#9eabb3"/>
<text x="784.5" y="419" font-family="Liberation Sans, sans-serif" font-size="11" font-weight="normal" fill="#000" text-anchor="start" textLength="31.5" lengthAdjust="spacingAndGlyphs">6.000k</text>
<rect x="778" y="441" width="4" height="1" fill="#5ad85a"/>
<rect x="782.5" y="429.5" width="35" height="15" fill="url(#boxg)" stroke="#8e9da6" stroke-width="1" shape-rendering="crispEdges"/>
<text x="784.6" y="440.9" font-family="Liberation Sans, sans-serif" font-size="11" font-weight="normal" fill="#5ad85a" textLength="31.4" lengthAdjust="spacingAndGlyphs">3.324k</text>
<rect x="778" y="447" width="5" height="1" fill="#000"/>
<rect x="782.5" y="444.5" width="35" height="14" fill="url(#boxg)" stroke="#8e9da6" stroke-width="1" shape-rendering="crispEdges"/>
<text x="784.6" y="454.9" font-family="Liberation Sans, sans-serif" font-size="11" font-weight="normal" fill="#000" textLength="31.4" lengthAdjust="spacingAndGlyphs">2.679k</text>
<rect x="778" y="503" width="4" height="1" fill="#9eabb3"/>
<rect x="778" y="521" width="4" height="1" fill="#9eabb3"/>
<text x="784.5" y="525.2" font-family="Liberation Sans, sans-serif" font-size="12" font-weight="bold" fill="#000" text-anchor="start">0</text>
<rect x="778" y="489" width="5" height="1" fill="#000"/>
<rect x="782.5" y="479.5" width="36" height="14" fill="url(#boxg)" stroke="#8e9da6" stroke-width="1" shape-rendering="crispEdges"/>
<text x="784.6" y="489.9" font-family="Liberation Sans, sans-serif" font-size="11" font-weight="normal" fill="#000" textLength="32.4" lengthAdjust="spacingAndGlyphs">87,738</text>
<rect x="778" y="499" width="5" height="1" fill="#e06c6c"/>
<rect x="782.5" y="493.5" width="36" height="14" fill="url(#boxg)" stroke="#8e9da6" stroke-width="1" shape-rendering="crispEdges"/>
<text x="784.6" y="503.9" font-family="Liberation Sans, sans-serif" font-size="11" font-weight="normal" fill="#e06c6c" textLength="32.4" lengthAdjust="spacingAndGlyphs">60,927</text>
<rect x="778" y="575" width="4" height="1" fill="#9eabb3"/>
<rect x="778" y="593" width="4" height="1" fill="#9eabb3"/>
<text x="784.5" y="596" font-family="Liberation Sans, sans-serif" font-size="11" font-weight="normal" fill="#000" text-anchor="start">-1</text>
<rect x="778" y="548" width="5" height="1" fill="#5ad85a"/>
<rect x="782.5" y="539.5" width="36" height="15" fill="url(#boxg)" stroke="#8e9da6" stroke-width="1" shape-rendering="crispEdges"/>
<text x="784.6" y="550.9" font-family="Liberation Sans, sans-serif" font-size="11" font-weight="normal" fill="#5ad85a" textLength="32.4" lengthAdjust="spacingAndGlyphs">0,2341</text>
<rect x="778" y="563" width="5" height="1" fill="#3333dd"/>
<rect x="782.5" y="554.5" width="40" height="14" fill="url(#boxg)" stroke="#8e9da6" stroke-width="1" shape-rendering="crispEdges"/>
<text x="784.6" y="564.9" font-family="Liberation Sans, sans-serif" font-size="11" font-weight="normal" fill="#3333dd" textLength="36.4" lengthAdjust="spacingAndGlyphs">-0.1742</text>
<rect x="778" y="572" width="5" height="1" fill="#e06c6c"/>
<rect x="782.5" y="568.5" width="40" height="13" fill="url(#boxg)" stroke="#8e9da6" stroke-width="1" shape-rendering="crispEdges"/>
<text x="784.6" y="577.9" font-family="Liberation Sans, sans-serif" font-size="11" font-weight="normal" fill="#e06c6c" textLength="36.4" lengthAdjust="spacingAndGlyphs">-0,4084</text>
<rect x="27" y="599" width="1" height="4" fill="#9eabb3"/>
<text x="27.5" y="614.5" font-family="Liberation Sans, sans-serif" font-size="11" font-weight="normal" fill="#000" text-anchor="middle">08</text>
<rect x="56" y="599" width="1" height="4" fill="#9eabb3"/>
<text x="56.5" y="614.5" font-family="Liberation Sans, sans-serif" font-size="11" font-weight="normal" fill="#000" text-anchor="middle">15</text>
<rect x="84" y="599" width="1" height="4" fill="#9eabb3"/>
<text x="84.5" y="614.5" font-family="Liberation Sans, sans-serif" font-size="11" font-weight="normal" fill="#000" text-anchor="middle">22</text>
<rect x="124" y="599" width="1" height="4" fill="#9eabb3"/>
<text x="124.5" y="614.5" font-family="Liberation Sans, sans-serif" font-size="12" font-weight="bold" fill="#000" text-anchor="middle">may</text>
<rect x="169" y="599" width="1" height="4" fill="#9eabb3"/>
<text x="169.5" y="614.5" font-family="Liberation Sans, sans-serif" font-size="11" font-weight="normal" fill="#000" text-anchor="middle">14</text>
<rect x="197" y="599" width="1" height="4" fill="#9eabb3"/>
<text x="197.5" y="614.5" font-family="Liberation Sans, sans-serif" font-size="11" font-weight="normal" fill="#000" text-anchor="middle">21</text>
<rect x="237" y="599" width="1" height="4" fill="#9eabb3"/>
<text x="237.5" y="614.5" font-family="Liberation Sans, sans-serif" font-size="12" font-weight="bold" fill="#000" text-anchor="middle">jun</text>
<rect x="282" y="599" width="1" height="4" fill="#9eabb3"/>
<text x="282.5" y="614.5" font-family="Liberation Sans, sans-serif" font-size="11" font-weight="normal" fill="#000" text-anchor="middle">11</text>
<rect x="311" y="599" width="1" height="4" fill="#9eabb3"/>
<text x="311.5" y="614.5" font-family="Liberation Sans, sans-serif" font-size="11" font-weight="normal" fill="#000" text-anchor="middle">18</text>
<rect x="339" y="599" width="1" height="4" fill="#9eabb3"/>
<text x="339.5" y="614.5" font-family="Liberation Sans, sans-serif" font-size="11" font-weight="normal" fill="#000" text-anchor="middle">25</text>
<rect x="362" y="599" width="1" height="4" fill="#9eabb3"/>
<text x="362.5" y="614.5" font-family="Liberation Sans, sans-serif" font-size="12" font-weight="bold" fill="#000" text-anchor="middle">jul</text>
<rect x="396" y="599" width="1" height="4" fill="#9eabb3"/>
<text x="396.5" y="614.5" font-family="Liberation Sans, sans-serif" font-size="11" font-weight="normal" fill="#000" text-anchor="middle">09</text>
<rect x="424" y="599" width="1" height="4" fill="#9eabb3"/>
<text x="424.5" y="614.5" font-family="Liberation Sans, sans-serif" font-size="11" font-weight="normal" fill="#000" text-anchor="middle">16</text>
<rect x="452" y="599" width="1" height="4" fill="#9eabb3"/>
<text x="452.5" y="614.5" font-family="Liberation Sans, sans-serif" font-size="11" font-weight="normal" fill="#000" text-anchor="middle">23</text>
<rect x="492" y="599" width="1" height="4" fill="#9eabb3"/>
<text x="492.5" y="614.5" font-family="Liberation Sans, sans-serif" font-size="12" font-weight="bold" fill="#000" text-anchor="middle">ago</text>
<rect x="537" y="599" width="1" height="4" fill="#9eabb3"/>
<text x="537.5" y="614.5" font-family="Liberation Sans, sans-serif" font-size="11" font-weight="normal" fill="#000" text-anchor="middle">13</text>
<rect x="566" y="599" width="1" height="4" fill="#9eabb3"/>
<text x="566.5" y="614.5" font-family="Liberation Sans, sans-serif" font-size="11" font-weight="normal" fill="#000" text-anchor="middle">20</text>
<rect x="611" y="599" width="1" height="4" fill="#9eabb3"/>
<text x="611.5" y="614.5" font-family="Liberation Sans, sans-serif" font-size="12" font-weight="bold" fill="#000" text-anchor="middle">sep</text>
<rect x="651" y="599" width="1" height="4" fill="#9eabb3"/>
<text x="651.5" y="614.5" font-family="Liberation Sans, sans-serif" font-size="11" font-weight="normal" fill="#000" text-anchor="middle">10</text>
<rect x="679" y="599" width="1" height="4" fill="#9eabb3"/>
<text x="679.5" y="614.5" font-family="Liberation Sans, sans-serif" font-size="11" font-weight="normal" fill="#000" text-anchor="middle">17</text>
<rect x="707" y="599" width="1" height="4" fill="#9eabb3"/>
<text x="707.5" y="614.5" font-family="Liberation Sans, sans-serif" font-size="11" font-weight="normal" fill="#000" text-anchor="middle">24</text>
<rect x="736" y="599" width="1" height="4" fill="#9eabb3"/>
<text x="736.5" y="614.5" font-family="Liberation Sans, sans-serif" font-size="12" font-weight="bold" fill="#000" text-anchor="middle">oct</text>
<rect x="764" y="599" width="1" height="4" fill="#9eabb3"/>
<text x="764.5" y="614.5" font-family="Liberation Sans, sans-serif" font-size="11" font-weight="normal" fill="#000" text-anchor="middle">08</text>
</svg></body></html>
